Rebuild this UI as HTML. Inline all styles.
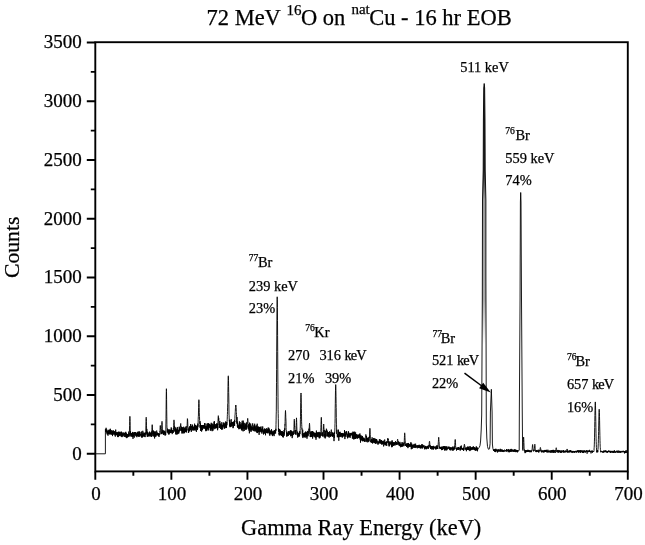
<!DOCTYPE html>
<html><head><meta charset="utf-8"><style>
html,body{margin:0;padding:0;background:#fff;}
svg{display:block;will-change:transform;}
text{font-family:"Liberation Serif",serif;fill:#000;stroke:#000;stroke-width:0.25px;}
</style></head><body>
<svg width="645" height="545" viewBox="0 0 645 545">
<defs><linearGradient id="g511" x1="0" y1="83" x2="0" y2="350" gradientUnits="userSpaceOnUse"><stop offset="0" stop-color="#222"/><stop offset="0.326" stop-color="#222"/><stop offset="0.438" stop-color="#999"/><stop offset="0.81" stop-color="#aaa"/><stop offset="0.98" stop-color="#fff"/></linearGradient></defs>
<path d="M482.2,350L482.3,300L482.5,200L483.2,170L483.4,120L483.75,88L484.2,83.5L484.65,88L485.0,120L485.2,170L485.9,200L485.9,275L486.0,350Z" fill="url(#g511)"/>
<path d="M95.30,453.80 L105.40,453.80 L105.40,429.50 L105.50,429.06 L105.60,430.17 L105.70,431.36 L105.80,430.68 L105.90,431.72 L106.00,429.96 L106.10,427.80 L106.20,431.11 L106.30,431.43 L106.40,429.58 L106.50,429.91 L106.60,430.44 L106.70,432.33 L106.80,430.86 L106.90,429.70 L107.00,433.32 L107.10,431.82 L107.20,434.34 L107.30,433.32 L107.40,434.30 L107.50,431.57 L107.60,433.38 L107.70,430.77 L107.80,431.00 L107.90,431.63 L108.00,435.65 L108.10,432.30 L108.20,431.49 L108.30,431.25 L108.40,434.09 L108.50,432.33 L108.60,433.21 L108.70,432.96 L108.80,429.81 L108.90,433.02 L109.00,431.74 L109.10,430.21 L109.20,432.74 L109.30,431.97 L109.40,431.63 L109.50,431.74 L109.60,433.96 L109.70,431.79 L109.80,429.66 L109.90,434.60 L110.00,430.57 L110.10,431.85 L110.20,433.17 L110.30,428.75 L110.40,430.87 L110.50,434.21 L110.60,432.10 L110.70,431.29 L110.80,432.61 L110.90,431.18 L111.00,432.47 L111.10,431.28 L111.20,430.02 L111.30,433.59 L111.40,432.16 L111.50,433.30 L111.60,432.35 L111.70,434.58 L111.80,433.60 L111.90,432.99 L112.00,431.21 L112.10,430.81 L112.20,434.93 L112.30,434.07 L112.40,431.69 L112.50,436.09 L112.60,433.57 L112.70,432.97 L112.80,430.74 L112.90,431.70 L113.00,433.40 L113.10,433.49 L113.20,433.31 L113.30,430.39 L113.40,433.63 L113.50,433.44 L113.60,432.38 L113.70,433.17 L113.80,433.32 L113.90,434.85 L114.00,433.04 L114.10,433.77 L114.20,431.13 L114.30,431.99 L114.40,433.13 L114.50,432.00 L114.60,433.68 L114.70,431.40 L114.80,433.16 L114.90,432.21 L115.00,435.31 L115.10,432.63 L115.20,435.99 L115.30,436.58 L115.40,433.75 L115.50,434.74 L115.60,433.01 L115.70,429.61 L115.80,434.68 L115.90,434.35 L116.00,433.01 L116.10,432.55 L116.20,433.67 L116.30,433.73 L116.40,432.26 L116.50,432.58 L116.60,435.14 L116.70,433.59 L116.80,433.42 L116.90,435.22 L117.00,433.08 L117.10,434.93 L117.20,431.95 L117.30,433.24 L117.40,433.43 L117.50,434.55 L117.60,433.80 L117.70,436.88 L117.80,435.48 L117.90,433.06 L118.00,437.14 L118.10,432.31 L118.20,436.54 L118.30,432.49 L118.40,435.11 L118.50,432.48 L118.60,433.55 L118.70,436.28 L118.80,431.77 L118.90,431.47 L119.00,433.94 L119.10,434.29 L119.20,434.12 L119.30,435.46 L119.40,432.11 L119.50,434.79 L119.60,434.01 L119.70,435.23 L119.80,434.97 L119.90,436.04 L120.00,431.96 L120.10,434.26 L120.20,432.46 L120.30,434.02 L120.40,435.18 L120.50,434.60 L120.60,434.99 L120.70,434.09 L120.80,434.73 L120.90,434.62 L121.00,436.38 L121.10,435.47 L121.20,431.52 L121.30,435.28 L121.40,435.91 L121.50,433.69 L121.60,431.99 L121.70,436.60 L121.80,434.62 L121.90,435.31 L122.00,437.14 L122.10,433.15 L122.20,434.39 L122.30,434.25 L122.40,435.59 L122.50,433.67 L122.60,435.28 L122.70,434.66 L122.80,436.22 L122.90,436.41 L123.00,432.34 L123.10,435.30 L123.20,434.04 L123.30,434.58 L123.40,435.25 L123.50,435.37 L123.60,433.57 L123.70,435.07 L123.80,434.85 L123.90,434.59 L124.00,432.76 L124.10,433.57 L124.20,434.06 L124.30,435.58 L124.40,436.90 L124.50,433.21 L124.60,433.20 L124.70,434.98 L124.80,433.91 L124.90,433.54 L125.00,433.48 L125.10,433.34 L125.20,435.52 L125.30,432.39 L125.40,436.77 L125.50,433.42 L125.60,434.01 L125.70,433.40 L125.80,431.80 L125.90,432.43 L126.00,436.61 L126.10,437.47 L126.20,433.49 L126.30,436.40 L126.40,434.80 L126.50,433.45 L126.60,437.39 L126.70,438.13 L126.80,434.36 L126.90,434.70 L127.00,435.16 L127.10,434.71 L127.20,436.14 L127.30,437.18 L127.40,435.03 L127.50,436.31 L127.60,437.38 L127.70,433.96 L127.80,434.86 L127.90,434.11 L128.00,436.33 L128.10,435.81 L128.20,436.35 L128.30,436.17 L128.40,434.44 L128.50,436.00 L128.60,434.18 L128.70,434.21 L128.80,431.52 L128.90,436.96 L129.00,433.29 L129.10,434.73 L129.20,434.28 L129.30,435.79 L129.40,432.62 L129.50,428.00 L129.60,425.44 L129.70,421.23 L129.80,417.96 L129.90,416.32 L129.90,416.61 L130.00,418.42 L130.10,421.41 L130.20,425.88 L130.30,434.36 L130.40,432.72 L130.50,431.33 L130.60,434.17 L130.70,436.43 L130.80,436.18 L130.90,432.91 L131.00,434.47 L131.10,434.64 L131.20,434.80 L131.30,434.65 L131.40,433.43 L131.50,433.83 L131.60,434.37 L131.70,436.38 L131.80,433.89 L131.90,435.80 L132.00,432.96 L132.10,436.74 L132.20,434.92 L132.30,434.71 L132.40,436.82 L132.50,431.95 L132.60,432.37 L132.70,435.44 L132.80,433.46 L132.90,434.09 L133.00,438.87 L133.10,434.29 L133.20,434.79 L133.30,434.56 L133.40,436.41 L133.50,435.12 L133.60,434.97 L133.70,432.78 L133.80,434.15 L133.90,434.69 L134.00,432.23 L134.10,435.57 L134.20,435.30 L134.30,437.58 L134.40,432.16 L134.50,433.13 L134.60,433.20 L134.70,433.60 L134.80,434.49 L134.90,434.32 L135.00,435.07 L135.10,434.99 L135.20,434.58 L135.30,432.24 L135.40,433.77 L135.50,434.75 L135.60,435.59 L135.70,435.67 L135.80,432.09 L135.90,433.84 L136.00,434.55 L136.10,435.21 L136.20,436.43 L136.30,434.76 L136.40,433.25 L136.50,435.28 L136.60,435.01 L136.70,435.00 L136.80,434.47 L136.90,437.20 L137.00,435.02 L137.10,436.01 L137.20,433.22 L137.30,435.87 L137.40,433.71 L137.50,432.19 L137.60,435.14 L137.70,435.60 L137.80,434.32 L137.90,434.63 L138.00,436.22 L138.10,433.89 L138.20,431.39 L138.30,435.04 L138.40,434.95 L138.50,436.30 L138.60,434.11 L138.70,436.62 L138.80,436.39 L138.90,432.56 L139.00,436.07 L139.10,432.88 L139.20,432.16 L139.30,434.19 L139.40,433.72 L139.50,431.47 L139.60,434.92 L139.70,435.56 L139.80,436.78 L139.90,434.53 L140.00,432.22 L140.10,433.05 L140.20,436.10 L140.30,435.96 L140.40,435.39 L140.50,434.10 L140.60,434.90 L140.70,434.22 L140.80,434.08 L140.90,435.03 L141.00,434.61 L141.10,434.21 L141.20,434.67 L141.30,433.72 L141.40,431.51 L141.50,433.56 L141.60,434.42 L141.70,437.23 L141.80,433.88 L141.90,437.64 L142.00,436.76 L142.10,433.11 L142.20,433.34 L142.30,434.72 L142.40,437.23 L142.50,435.06 L142.60,435.55 L142.70,433.42 L142.80,430.80 L142.90,434.09 L143.00,435.69 L143.10,436.32 L143.20,434.51 L143.30,434.70 L143.40,436.28 L143.50,434.22 L143.60,436.26 L143.70,432.60 L143.80,432.67 L143.90,432.63 L144.00,435.15 L144.10,433.54 L144.20,434.58 L144.30,434.99 L144.40,434.91 L144.50,436.46 L144.60,436.69 L144.70,433.05 L144.80,434.65 L144.90,433.98 L145.00,432.70 L145.10,437.13 L145.20,435.58 L145.30,433.98 L145.40,433.52 L145.50,434.47 L145.60,431.46 L145.70,431.32 L145.80,431.15 L145.90,425.94 L146.00,421.68 L146.10,418.68 L146.20,418.06 L146.20,417.27 L146.30,418.64 L146.40,421.53 L146.50,425.77 L146.60,429.62 L146.70,433.44 L146.80,428.93 L146.90,434.06 L147.00,431.48 L147.10,435.22 L147.20,433.93 L147.30,436.92 L147.40,434.82 L147.50,432.58 L147.60,436.22 L147.70,432.43 L147.80,433.62 L147.90,435.87 L148.00,434.98 L148.10,434.90 L148.20,434.23 L148.30,435.02 L148.40,435.49 L148.50,434.63 L148.60,435.80 L148.70,436.23 L148.80,434.19 L148.90,432.67 L149.00,436.60 L149.10,434.09 L149.20,435.16 L149.30,435.69 L149.40,432.69 L149.50,434.93 L149.60,431.62 L149.70,435.34 L149.80,433.43 L149.90,434.43 L150.00,435.28 L150.10,433.08 L150.20,434.29 L150.30,433.05 L150.40,434.11 L150.50,435.80 L150.60,434.18 L150.70,433.93 L150.80,432.43 L150.90,435.49 L151.00,434.06 L151.10,436.81 L151.20,432.91 L151.30,435.73 L151.40,436.86 L151.50,433.81 L151.60,431.49 L151.70,434.98 L151.80,432.85 L151.90,429.28 L152.00,427.20 L152.10,425.08 L152.20,424.70 L152.20,424.68 L152.30,425.02 L152.40,427.09 L152.50,428.96 L152.60,432.62 L152.70,434.41 L152.80,436.26 L152.90,430.57 L153.00,434.33 L153.10,433.45 L153.20,433.92 L153.30,433.60 L153.40,433.78 L153.50,430.71 L153.60,435.56 L153.70,436.41 L153.80,435.51 L153.90,436.04 L154.00,432.60 L154.10,432.47 L154.20,435.41 L154.30,436.11 L154.40,434.39 L154.50,431.51 L154.60,438.45 L154.70,432.92 L154.80,435.56 L154.90,432.06 L155.00,435.56 L155.10,434.24 L155.20,436.25 L155.30,435.37 L155.40,431.46 L155.50,432.39 L155.60,434.41 L155.70,435.18 L155.80,436.87 L155.90,434.38 L156.00,433.77 L156.10,433.85 L156.20,433.86 L156.30,435.56 L156.40,433.81 L156.50,433.76 L156.60,431.55 L156.70,430.59 L156.80,433.90 L156.90,434.94 L157.00,433.77 L157.10,434.67 L157.20,434.89 L157.30,433.75 L157.40,435.38 L157.50,432.63 L157.60,433.80 L157.70,433.21 L157.80,433.92 L157.90,434.82 L158.00,435.19 L158.10,434.00 L158.20,434.51 L158.30,433.20 L158.40,433.60 L158.50,435.85 L158.60,433.47 L158.70,435.81 L158.80,434.59 L158.90,434.05 L159.00,437.01 L159.10,433.40 L159.20,433.29 L159.30,433.80 L159.40,434.23 L159.50,434.10 L159.60,434.99 L159.70,433.51 L159.80,433.34 L159.90,431.12 L160.00,431.60 L160.10,427.58 L160.20,426.00 L160.30,425.44 L160.30,425.51 L160.40,425.86 L160.50,427.98 L160.60,429.35 L160.70,430.72 L160.80,431.78 L160.90,432.22 L161.00,434.23 L161.10,433.64 L161.20,432.08 L161.30,432.21 L161.40,432.07 L161.50,433.94 L161.60,428.75 L161.70,426.95 L161.80,424.33 L161.90,422.38 L162.00,421.99 L162.00,421.36 L162.10,422.44 L162.20,425.15 L162.30,427.03 L162.40,432.02 L162.50,433.38 L162.60,433.25 L162.70,430.50 L162.80,433.47 L162.90,432.43 L163.00,429.93 L163.10,430.18 L163.20,433.04 L163.30,433.25 L163.40,434.96 L163.50,433.98 L163.60,432.06 L163.70,432.09 L163.80,432.55 L163.90,431.03 L164.00,434.02 L164.10,432.78 L164.20,431.41 L164.30,431.64 L164.40,430.79 L164.50,431.92 L164.60,433.11 L164.70,431.94 L164.80,434.26 L164.90,435.33 L165.00,431.51 L165.10,432.57 L165.20,431.93 L165.30,435.35 L165.40,433.02 L165.50,433.32 L165.60,433.48 L165.70,435.08 L165.80,429.88 L165.90,423.93 L166.00,418.32 L166.10,410.07 L166.20,399.89 L166.30,391.63 L166.40,389.41 L166.40,388.73 L166.50,391.64 L166.60,399.63 L166.70,409.35 L166.80,416.85 L166.90,424.73 L167.00,428.54 L167.10,429.56 L167.20,432.61 L167.30,432.00 L167.40,430.42 L167.50,428.60 L167.60,432.26 L167.70,432.04 L167.80,431.60 L167.90,429.59 L168.00,431.95 L168.10,429.32 L168.20,433.54 L168.30,432.16 L168.40,432.17 L168.50,430.43 L168.60,429.96 L168.70,434.39 L168.80,433.34 L168.90,431.13 L169.00,432.85 L169.10,434.34 L169.20,429.84 L169.30,430.78 L169.40,430.76 L169.50,432.43 L169.60,429.78 L169.70,431.98 L169.80,429.62 L169.90,433.12 L170.00,433.00 L170.10,431.13 L170.20,432.71 L170.30,430.27 L170.40,430.99 L170.50,433.06 L170.60,431.29 L170.70,432.03 L170.80,429.78 L170.90,432.49 L171.00,432.14 L171.10,429.22 L171.20,427.39 L171.30,427.80 L171.40,431.20 L171.50,430.91 L171.60,428.58 L171.70,431.49 L171.80,432.99 L171.90,431.04 L172.00,430.43 L172.10,432.69 L172.20,434.12 L172.30,433.74 L172.40,430.00 L172.50,432.51 L172.60,431.40 L172.70,430.76 L172.80,430.03 L172.90,431.71 L173.00,430.21 L173.10,432.64 L173.20,431.62 L173.30,432.58 L173.40,428.24 L173.50,429.29 L173.60,428.85 L173.70,425.26 L173.80,422.60 L173.90,420.24 L174.00,420.03 L174.00,419.88 L174.10,420.50 L174.20,421.81 L174.30,424.83 L174.40,427.63 L174.50,427.84 L174.60,426.42 L174.70,430.99 L174.80,431.41 L174.90,428.65 L175.00,429.94 L175.10,429.62 L175.20,431.71 L175.30,427.35 L175.40,427.72 L175.50,429.75 L175.60,429.53 L175.70,434.37 L175.80,429.58 L175.90,431.06 L176.00,429.92 L176.10,429.46 L176.20,431.29 L176.30,433.69 L176.40,429.99 L176.50,431.96 L176.60,431.21 L176.70,431.69 L176.80,431.21 L176.90,434.73 L177.00,428.38 L177.10,430.10 L177.20,428.54 L177.30,426.96 L177.40,430.47 L177.50,433.75 L177.60,432.10 L177.70,432.65 L177.80,431.37 L177.90,430.30 L178.00,434.05 L178.10,429.80 L178.20,433.13 L178.30,429.86 L178.40,430.58 L178.50,430.93 L178.60,430.49 L178.70,431.32 L178.80,431.43 L178.90,433.36 L179.00,430.35 L179.10,426.94 L179.20,426.69 L179.30,427.86 L179.40,428.97 L179.50,431.46 L179.60,427.60 L179.70,430.31 L179.80,430.31 L179.90,430.67 L180.00,429.87 L180.10,430.58 L180.20,429.42 L180.30,430.30 L180.40,427.64 L180.50,424.78 L180.60,424.13 L180.70,423.67 L180.70,423.45 L180.80,423.89 L180.90,425.65 L181.00,426.94 L181.10,426.55 L181.20,428.64 L181.30,429.41 L181.40,427.02 L181.50,431.17 L181.60,429.79 L181.70,430.89 L181.80,427.20 L181.90,433.48 L182.00,431.13 L182.10,430.85 L182.20,428.66 L182.30,428.75 L182.40,427.29 L182.50,432.72 L182.60,428.45 L182.70,430.34 L182.80,431.01 L182.90,428.79 L183.00,431.45 L183.10,433.56 L183.20,430.42 L183.30,432.48 L183.40,430.91 L183.50,429.02 L183.60,429.11 L183.70,426.76 L183.80,430.03 L183.90,432.47 L184.00,431.02 L184.10,431.31 L184.20,431.85 L184.30,428.79 L184.40,430.77 L184.50,433.21 L184.60,428.27 L184.70,429.75 L184.80,428.87 L184.90,429.32 L185.00,428.33 L185.10,429.42 L185.20,427.19 L185.30,428.67 L185.40,428.72 L185.50,428.67 L185.60,432.11 L185.70,429.70 L185.80,429.86 L185.90,428.98 L186.00,431.87 L186.10,426.31 L186.20,429.13 L186.30,431.56 L186.40,432.46 L186.50,429.80 L186.60,429.41 L186.70,430.49 L186.80,428.79 L186.90,429.69 L187.00,426.54 L187.10,427.34 L187.20,423.83 L187.30,421.13 L187.40,418.74 L187.50,418.98 L187.50,418.83 L187.60,419.66 L187.70,421.12 L187.80,424.05 L187.90,426.78 L188.00,427.47 L188.10,430.14 L188.20,430.54 L188.30,429.81 L188.40,432.90 L188.50,431.68 L188.60,429.74 L188.70,428.68 L188.80,429.29 L188.90,432.25 L189.00,429.78 L189.10,427.40 L189.20,427.84 L189.30,429.02 L189.40,430.52 L189.50,427.66 L189.60,429.91 L189.70,431.00 L189.80,430.30 L189.90,426.06 L190.00,428.35 L190.10,426.57 L190.20,429.64 L190.30,426.96 L190.40,429.84 L190.50,428.99 L190.60,424.00 L190.70,427.22 L190.80,429.59 L190.90,428.79 L191.00,428.01 L191.10,426.32 L191.20,429.51 L191.30,431.86 L191.40,429.09 L191.50,428.52 L191.60,428.33 L191.70,426.03 L191.80,427.90 L191.90,426.95 L192.00,430.56 L192.10,426.82 L192.20,424.48 L192.30,426.97 L192.40,427.93 L192.50,428.11 L192.60,425.00 L192.70,430.13 L192.80,428.57 L192.90,427.47 L193.00,426.92 L193.10,429.14 L193.20,427.71 L193.30,428.81 L193.40,428.04 L193.50,428.50 L193.60,430.41 L193.70,428.26 L193.80,426.54 L193.90,430.03 L194.00,428.64 L194.10,426.90 L194.20,430.19 L194.30,427.79 L194.40,430.14 L194.50,425.94 L194.60,423.68 L194.70,424.22 L194.80,428.48 L194.90,426.63 L195.00,427.80 L195.10,427.82 L195.20,425.05 L195.30,430.51 L195.40,425.96 L195.50,428.05 L195.60,425.25 L195.70,427.57 L195.80,429.20 L195.90,427.37 L196.00,426.48 L196.10,427.80 L196.20,426.92 L196.30,428.84 L196.40,431.92 L196.50,426.09 L196.60,426.45 L196.70,427.50 L196.80,427.63 L196.90,425.75 L197.00,428.59 L197.10,429.03 L197.20,427.97 L197.30,425.23 L197.40,430.05 L197.50,424.89 L197.60,428.13 L197.70,428.62 L197.80,423.52 L197.90,425.39 L198.00,426.71 L198.10,423.57 L198.20,419.29 L198.30,416.39 L198.40,416.38 L198.50,410.95 L198.60,407.33 L198.70,403.79 L198.80,400.65 L198.90,399.71 L198.90,399.86 L199.00,400.87 L199.10,403.52 L199.20,407.44 L199.30,412.71 L199.40,416.24 L199.50,416.36 L199.60,420.47 L199.70,420.93 L199.80,421.61 L199.90,423.76 L200.00,421.21 L200.10,427.76 L200.20,424.96 L200.30,427.42 L200.40,423.37 L200.50,423.78 L200.60,430.95 L200.70,429.07 L200.80,425.92 L200.90,425.68 L201.00,425.79 L201.10,427.35 L201.20,426.32 L201.30,425.93 L201.40,427.35 L201.50,425.19 L201.60,431.58 L201.70,425.94 L201.80,429.18 L201.90,425.29 L202.00,427.60 L202.10,428.88 L202.20,426.41 L202.30,428.91 L202.40,428.90 L202.50,430.17 L202.60,427.16 L202.70,426.13 L202.80,425.10 L202.90,427.36 L203.00,425.03 L203.10,427.04 L203.20,427.25 L203.30,425.94 L203.40,424.98 L203.50,427.71 L203.60,427.51 L203.70,427.34 L203.80,426.86 L203.90,428.77 L204.00,425.00 L204.10,427.78 L204.20,426.09 L204.30,428.60 L204.40,426.28 L204.50,426.20 L204.60,427.79 L204.70,423.00 L204.80,426.22 L204.90,423.46 L205.00,425.05 L205.10,428.22 L205.20,427.67 L205.30,426.06 L205.40,426.78 L205.50,426.80 L205.60,427.45 L205.70,430.43 L205.80,427.32 L205.90,431.22 L206.00,426.13 L206.10,428.28 L206.20,428.25 L206.30,427.27 L206.40,426.30 L206.50,429.64 L206.60,430.25 L206.70,428.90 L206.80,430.81 L206.90,428.69 L207.00,423.66 L207.10,428.86 L207.20,425.49 L207.30,429.46 L207.40,426.17 L207.50,427.38 L207.60,426.86 L207.70,425.62 L207.80,423.27 L207.90,426.34 L208.00,426.47 L208.10,428.62 L208.20,425.55 L208.30,427.18 L208.40,425.04 L208.50,426.75 L208.60,423.19 L208.70,430.45 L208.80,426.95 L208.90,424.32 L209.00,426.30 L209.10,425.33 L209.20,424.75 L209.30,424.91 L209.30,424.46 L209.40,423.93 L209.50,424.73 L209.60,425.89 L209.70,427.73 L209.80,427.09 L209.90,424.47 L210.00,428.15 L210.10,427.91 L210.20,424.80 L210.30,424.83 L210.40,427.28 L210.50,428.74 L210.60,429.59 L210.70,427.90 L210.80,430.92 L210.90,425.02 L211.00,427.74 L211.10,425.53 L211.20,422.78 L211.30,424.15 L211.40,428.75 L211.50,424.73 L211.60,424.15 L211.70,427.92 L211.80,428.33 L211.90,426.64 L212.00,429.60 L212.10,423.49 L212.20,431.18 L212.30,428.59 L212.40,426.93 L212.50,426.83 L212.60,426.05 L212.70,425.83 L212.80,426.79 L212.90,424.09 L213.00,430.60 L213.10,426.34 L213.20,427.75 L213.30,426.06 L213.40,425.88 L213.50,428.12 L213.60,427.58 L213.70,424.72 L213.80,425.59 L213.90,427.63 L214.00,422.21 L214.10,421.67 L214.20,429.17 L214.30,425.65 L214.40,421.25 L214.50,424.67 L214.60,425.79 L214.70,426.64 L214.80,427.29 L214.90,426.63 L215.00,427.30 L215.10,424.70 L215.20,426.97 L215.30,427.05 L215.40,428.56 L215.50,426.25 L215.60,427.92 L215.70,426.49 L215.80,424.03 L215.90,425.37 L216.00,425.08 L216.10,425.37 L216.20,425.95 L216.30,426.31 L216.40,426.67 L216.50,424.52 L216.60,428.20 L216.70,423.33 L216.80,425.94 L216.90,427.50 L217.00,426.96 L217.10,427.33 L217.20,425.64 L217.30,427.39 L217.40,423.63 L217.50,427.41 L217.60,430.22 L217.70,426.70 L217.80,428.41 L217.90,423.01 L218.00,420.60 L218.10,418.50 L218.20,417.30 L218.30,416.43 L218.30,415.66 L218.40,416.78 L218.50,418.65 L218.60,420.54 L218.70,417.91 L218.80,421.66 L218.90,424.83 L219.00,424.80 L219.10,424.43 L219.20,426.96 L219.30,427.86 L219.40,425.62 L219.50,427.62 L219.60,425.83 L219.70,425.50 L219.80,420.96 L219.90,427.39 L220.00,425.91 L220.10,425.98 L220.20,424.76 L220.30,423.52 L220.40,426.61 L220.50,427.27 L220.60,428.91 L220.70,427.46 L220.80,424.49 L220.90,425.47 L221.00,427.61 L221.10,426.30 L221.20,425.47 L221.30,424.50 L221.40,426.71 L221.50,426.01 L221.60,429.17 L221.70,427.81 L221.80,422.19 L221.90,429.89 L222.00,426.13 L222.10,424.99 L222.20,426.18 L222.30,427.05 L222.40,425.53 L222.50,425.40 L222.60,425.55 L222.70,429.18 L222.80,425.66 L222.90,427.09 L223.00,426.45 L223.10,424.87 L223.20,424.01 L223.30,423.48 L223.40,426.31 L223.50,423.40 L223.60,422.88 L223.70,422.95 L223.80,422.42 L223.90,425.54 L224.00,425.59 L224.10,423.54 L224.20,427.99 L224.30,424.77 L224.40,426.27 L224.50,425.93 L224.60,428.72 L224.70,426.97 L224.80,425.19 L224.90,423.32 L225.00,423.10 L225.10,425.28 L225.20,425.49 L225.30,426.79 L225.40,424.26 L225.50,425.58 L225.60,423.82 L225.70,421.46 L225.80,425.10 L225.90,428.09 L226.00,426.77 L226.10,427.98 L226.20,427.43 L226.30,422.27 L226.40,424.44 L226.50,427.95 L226.60,423.38 L226.70,421.95 L226.80,424.99 L226.90,425.21 L227.00,423.88 L227.10,421.70 L227.20,419.69 L227.30,416.84 L227.40,414.44 L227.50,411.42 L227.60,407.11 L227.70,403.64 L227.80,402.34 L227.90,392.84 L228.00,386.30 L228.10,380.97 L228.20,376.77 L228.30,375.81 L228.30,375.99 L228.40,376.62 L228.50,380.67 L228.60,386.36 L228.70,392.54 L228.80,397.04 L228.90,404.32 L229.00,414.98 L229.10,415.26 L229.20,417.88 L229.30,421.29 L229.40,420.60 L229.50,419.82 L229.60,424.17 L229.70,426.14 L229.80,420.06 L229.90,425.43 L230.00,427.22 L230.10,424.30 L230.20,423.98 L230.30,426.34 L230.40,423.30 L230.50,425.94 L230.60,426.84 L230.70,424.59 L230.80,423.38 L230.90,426.27 L231.00,424.30 L231.10,425.17 L231.20,419.19 L231.30,426.45 L231.40,422.16 L231.50,425.11 L231.60,425.27 L231.70,423.53 L231.80,423.19 L231.90,422.43 L232.00,424.36 L232.10,426.27 L232.20,426.15 L232.30,424.01 L232.40,423.87 L232.50,422.19 L232.60,424.21 L232.70,422.90 L232.80,421.97 L232.90,424.75 L233.00,428.14 L233.10,427.51 L233.20,428.05 L233.30,421.84 L233.40,426.85 L233.50,422.58 L233.60,423.90 L233.70,421.57 L233.80,423.00 L233.90,425.22 L234.00,425.34 L234.10,424.62 L234.20,424.23 L234.30,425.37 L234.40,423.92 L234.50,419.95 L234.60,425.94 L234.70,420.91 L234.80,422.03 L234.90,418.28 L235.00,415.20 L235.10,415.03 L235.20,412.76 L235.30,411.47 L235.40,408.75 L235.50,407.64 L235.60,405.99 L235.70,405.32 L235.80,405.89 L235.80,405.33 L235.90,405.32 L236.00,405.72 L236.10,407.40 L236.20,409.06 L236.30,411.48 L236.40,412.63 L236.50,414.54 L236.60,416.96 L236.70,419.21 L236.80,423.60 L236.90,419.76 L237.00,417.07 L237.10,421.94 L237.20,421.43 L237.30,423.35 L237.40,426.79 L237.50,422.26 L237.60,427.66 L237.70,425.66 L237.80,424.72 L237.90,423.53 L238.00,424.51 L238.10,424.59 L238.20,426.95 L238.30,428.03 L238.40,425.28 L238.50,426.86 L238.60,428.09 L238.70,428.01 L238.80,426.43 L238.90,429.22 L239.00,428.20 L239.10,428.79 L239.20,425.08 L239.30,424.63 L239.40,421.36 L239.50,428.53 L239.60,426.87 L239.70,423.62 L239.80,425.93 L239.90,426.16 L240.00,422.01 L240.10,426.22 L240.20,427.91 L240.30,428.26 L240.40,424.92 L240.50,425.00 L240.60,428.44 L240.70,427.68 L240.80,424.61 L240.90,424.55 L241.00,427.06 L241.10,424.51 L241.20,424.64 L241.30,429.45 L241.40,426.48 L241.50,425.03 L241.60,427.06 L241.70,430.26 L241.80,426.52 L241.90,424.45 L242.00,422.80 L242.10,430.46 L242.20,420.76 L242.30,428.36 L242.40,424.16 L242.50,423.63 L242.60,424.16 L242.70,425.87 L242.80,428.55 L242.90,424.96 L243.00,427.69 L243.10,431.36 L243.20,420.60 L243.30,424.90 L243.40,422.69 L243.50,428.21 L243.60,423.45 L243.70,423.23 L243.80,423.32 L243.90,426.52 L244.00,428.92 L244.10,426.88 L244.20,430.97 L244.30,429.99 L244.40,426.42 L244.50,428.61 L244.60,426.98 L244.70,426.89 L244.80,422.83 L244.90,424.13 L245.00,426.84 L245.10,424.36 L245.20,428.36 L245.30,427.50 L245.40,425.03 L245.50,429.35 L245.60,427.46 L245.70,429.56 L245.80,426.72 L245.90,423.72 L246.00,428.50 L246.10,426.58 L246.20,428.84 L246.30,429.36 L246.40,429.56 L246.50,424.23 L246.60,422.44 L246.70,426.18 L246.80,428.52 L246.90,425.56 L247.00,427.31 L247.10,424.44 L247.20,424.42 L247.30,422.98 L247.40,421.57 L247.50,420.16 L247.60,418.79 L247.70,418.71 L247.70,418.33 L247.80,419.15 L247.90,420.13 L248.00,422.19 L248.10,423.53 L248.20,424.35 L248.30,429.13 L248.40,428.60 L248.50,429.22 L248.60,426.08 L248.70,424.28 L248.80,426.01 L248.90,428.41 L249.00,424.87 L249.10,430.75 L249.20,424.85 L249.30,429.11 L249.40,433.31 L249.50,422.67 L249.60,424.80 L249.70,429.95 L249.80,427.62 L249.90,428.40 L250.00,427.80 L250.10,430.92 L250.20,429.37 L250.30,427.14 L250.40,427.64 L250.50,425.75 L250.60,427.96 L250.70,423.55 L250.80,429.56 L250.90,427.67 L251.00,431.94 L251.10,430.67 L251.20,425.65 L251.30,430.10 L251.40,427.25 L251.50,428.42 L251.60,430.35 L251.70,429.02 L251.80,429.36 L251.90,429.33 L252.00,426.93 L252.10,427.15 L252.20,429.56 L252.30,430.22 L252.40,427.93 L252.50,428.69 L252.60,426.52 L252.70,423.39 L252.80,426.92 L252.90,428.65 L253.00,428.93 L253.10,430.28 L253.20,430.40 L253.30,430.60 L253.40,429.45 L253.50,429.53 L253.60,427.28 L253.70,429.51 L253.80,429.14 L253.90,431.13 L254.00,425.62 L254.10,427.84 L254.20,425.39 L254.30,427.32 L254.40,426.01 L254.50,429.38 L254.60,427.54 L254.70,423.73 L254.80,431.32 L254.90,426.72 L255.00,425.73 L255.10,428.21 L255.20,427.57 L255.30,426.60 L255.40,430.37 L255.50,428.30 L255.60,430.83 L255.70,430.47 L255.80,430.37 L255.90,429.46 L256.00,428.91 L256.10,428.33 L256.20,432.02 L256.30,425.38 L256.40,427.01 L256.50,427.88 L256.60,430.02 L256.70,429.51 L256.80,428.29 L256.90,428.57 L257.00,432.69 L257.10,427.97 L257.20,423.73 L257.30,433.07 L257.40,427.53 L257.50,428.78 L257.60,429.74 L257.70,426.86 L257.80,431.87 L257.90,429.26 L258.00,426.74 L258.10,430.00 L258.20,430.46 L258.30,429.44 L258.40,430.55 L258.50,426.68 L258.60,431.49 L258.70,428.04 L258.80,432.20 L258.90,428.48 L259.00,430.00 L259.10,434.85 L259.20,429.85 L259.30,431.94 L259.40,430.75 L259.50,426.91 L259.60,432.09 L259.70,432.00 L259.80,427.16 L259.90,429.75 L260.00,427.01 L260.10,429.39 L260.20,431.75 L260.30,430.19 L260.40,427.69 L260.50,428.28 L260.60,430.12 L260.70,430.05 L260.80,430.38 L260.90,431.30 L261.00,426.46 L261.10,430.21 L261.20,432.43 L261.30,431.18 L261.40,428.88 L261.50,429.06 L261.60,430.58 L261.70,431.63 L261.80,430.31 L261.90,433.61 L262.00,432.91 L262.10,428.88 L262.20,431.36 L262.30,429.74 L262.40,428.13 L262.50,429.25 L262.60,430.48 L262.70,426.45 L262.80,429.28 L262.90,431.26 L263.00,429.19 L263.10,429.84 L263.20,432.28 L263.30,430.52 L263.40,431.00 L263.50,434.47 L263.60,431.05 L263.70,431.28 L263.80,431.60 L263.90,433.93 L264.00,431.48 L264.10,430.90 L264.20,430.65 L264.30,433.03 L264.40,429.67 L264.50,433.22 L264.60,431.35 L264.70,428.45 L264.80,432.28 L264.90,431.95 L265.00,428.95 L265.10,431.75 L265.20,431.60 L265.30,430.63 L265.40,429.07 L265.50,435.27 L265.60,432.67 L265.70,433.03 L265.80,433.19 L265.90,432.77 L266.00,432.75 L266.10,430.60 L266.20,432.88 L266.30,430.98 L266.40,430.46 L266.50,432.62 L266.60,431.01 L266.70,428.18 L266.80,430.68 L266.90,432.51 L267.00,431.44 L267.10,433.06 L267.20,430.84 L267.30,429.74 L267.40,432.93 L267.50,431.79 L267.60,429.32 L267.70,432.37 L267.80,431.09 L267.90,433.39 L268.00,433.02 L268.10,432.46 L268.20,427.52 L268.30,432.28 L268.40,432.52 L268.50,432.59 L268.60,431.88 L268.70,430.39 L268.80,431.26 L268.90,427.86 L269.00,431.25 L269.10,429.01 L269.20,431.17 L269.30,430.58 L269.40,434.34 L269.50,431.95 L269.60,431.86 L269.70,432.20 L269.80,435.70 L269.90,430.18 L270.00,432.51 L270.10,432.62 L270.20,432.30 L270.30,432.26 L270.40,431.12 L270.50,434.20 L270.60,433.59 L270.70,431.38 L270.80,431.66 L270.90,432.63 L271.00,433.00 L271.10,433.49 L271.20,432.10 L271.30,429.86 L271.40,433.95 L271.50,429.27 L271.60,430.52 L271.70,432.89 L271.80,430.67 L271.90,434.76 L272.00,435.26 L272.10,434.47 L272.20,432.89 L272.30,432.76 L272.40,433.12 L272.50,432.02 L272.60,436.08 L272.70,431.34 L272.80,434.81 L272.90,433.46 L273.00,433.03 L273.10,434.38 L273.20,434.79 L273.30,434.14 L273.40,432.37 L273.50,431.30 L273.60,431.36 L273.70,434.19 L273.80,433.83 L273.90,434.08 L274.00,431.63 L274.10,436.12 L274.20,430.24 L274.30,433.36 L274.40,433.91 L274.50,431.91 L274.60,430.68 L274.70,431.94 L274.80,430.68 L274.90,432.34 L275.00,430.39 L275.10,430.36 L275.20,432.76 L275.30,429.96 L275.40,432.16 L275.50,432.12 L275.60,433.59 L275.70,431.83 L275.80,428.85 L275.90,430.82 L276.00,424.51 L276.10,420.85 L276.20,414.95 L276.30,411.17 L276.40,396.74 L276.50,382.31 L276.60,369.68 L276.70,351.84 L276.80,335.95 L276.90,319.92 L277.00,307.98 L277.10,299.55 L277.20,297.49 L277.20,296.81 L277.30,299.86 L277.40,307.62 L277.50,320.41 L277.60,335.55 L277.70,351.36 L277.80,369.90 L277.90,384.86 L278.00,397.20 L278.10,409.22 L278.20,413.51 L278.30,418.60 L278.40,427.16 L278.50,431.79 L278.60,428.41 L278.70,429.62 L278.80,430.77 L278.90,430.53 L279.00,434.34 L279.10,433.20 L279.20,435.42 L279.30,435.51 L279.40,431.26 L279.50,434.21 L279.60,428.97 L279.70,432.91 L279.80,434.19 L279.90,431.64 L280.00,429.86 L280.10,432.21 L280.20,435.25 L280.30,432.43 L280.40,430.66 L280.50,433.99 L280.60,434.50 L280.70,431.33 L280.80,432.89 L280.90,435.11 L281.00,433.83 L281.10,434.51 L281.20,432.65 L281.30,432.99 L281.40,431.16 L281.50,431.95 L281.60,435.99 L281.70,432.50 L281.80,431.64 L281.90,432.44 L282.00,431.43 L282.10,434.24 L282.20,434.96 L282.30,431.63 L282.40,435.18 L282.50,437.13 L282.60,431.49 L282.70,434.60 L282.80,433.87 L282.90,435.81 L283.00,435.69 L283.10,435.40 L283.20,434.00 L283.30,432.72 L283.40,437.45 L283.50,432.06 L283.60,435.48 L283.70,435.28 L283.80,432.19 L283.90,433.50 L284.00,436.03 L284.10,429.97 L284.20,434.60 L284.30,432.40 L284.40,432.12 L284.50,429.44 L284.60,431.96 L284.70,428.30 L284.80,429.88 L284.90,424.57 L285.00,425.28 L285.10,421.42 L285.20,416.86 L285.30,414.11 L285.40,411.89 L285.50,410.51 L285.50,411.00 L285.60,412.16 L285.70,414.04 L285.80,417.73 L285.90,418.87 L286.00,421.91 L286.10,427.67 L286.20,429.81 L286.30,429.91 L286.40,431.30 L286.50,433.84 L286.60,431.68 L286.70,436.65 L286.80,434.08 L286.90,434.20 L287.00,434.08 L287.10,433.12 L287.20,435.86 L287.30,432.70 L287.40,434.07 L287.50,434.90 L287.60,436.17 L287.70,435.86 L287.80,433.16 L287.90,435.49 L288.00,433.70 L288.10,431.96 L288.20,432.02 L288.30,431.11 L288.40,434.37 L288.50,435.76 L288.60,432.08 L288.70,433.34 L288.80,431.92 L288.90,433.88 L289.00,431.81 L289.10,432.44 L289.20,432.67 L289.30,433.05 L289.40,433.25 L289.50,433.55 L289.60,433.57 L289.70,432.24 L289.80,434.88 L289.90,430.96 L290.00,434.19 L290.10,432.28 L290.20,434.16 L290.30,434.44 L290.40,430.46 L290.50,434.56 L290.60,436.25 L290.70,435.27 L290.80,434.58 L290.90,430.27 L291.00,433.67 L291.10,432.40 L291.20,435.79 L291.30,433.43 L291.40,432.87 L291.50,430.91 L291.60,435.27 L291.70,433.00 L291.80,433.53 L291.90,435.85 L292.00,434.10 L292.10,434.53 L292.20,438.13 L292.30,433.03 L292.40,433.14 L292.50,434.85 L292.60,436.42 L292.70,431.51 L292.80,433.63 L292.90,432.32 L293.00,431.64 L293.10,435.01 L293.20,432.69 L293.30,434.52 L293.40,434.19 L293.50,434.13 L293.60,433.72 L293.70,431.14 L293.80,431.56 L293.90,429.82 L294.00,426.53 L294.10,422.93 L294.20,420.50 L294.30,419.33 L294.30,419.21 L294.40,420.42 L294.50,423.06 L294.60,426.63 L294.70,426.09 L294.80,429.49 L294.90,432.34 L295.00,433.86 L295.10,430.22 L295.20,433.57 L295.30,434.32 L295.40,433.65 L295.50,433.64 L295.60,431.69 L295.70,434.08 L295.80,430.11 L295.90,434.62 L296.00,430.47 L296.10,431.04 L296.20,425.50 L296.30,422.38 L296.40,419.35 L296.50,417.96 L296.50,417.87 L296.60,419.64 L296.70,422.40 L296.80,426.36 L296.90,429.09 L297.00,431.89 L297.10,433.73 L297.20,435.00 L297.30,434.77 L297.40,435.51 L297.50,433.32 L297.60,431.61 L297.70,437.62 L297.80,434.46 L297.90,434.99 L298.00,433.41 L298.10,435.93 L298.20,434.53 L298.30,436.09 L298.40,433.07 L298.50,434.11 L298.60,434.57 L298.70,433.65 L298.80,434.72 L298.90,437.00 L299.00,433.26 L299.10,433.80 L299.20,434.56 L299.30,432.57 L299.40,432.14 L299.50,436.10 L299.60,435.45 L299.70,431.18 L299.80,431.00 L299.90,434.08 L300.00,433.77 L300.10,431.15 L300.20,428.46 L300.30,426.98 L300.40,419.79 L300.50,416.79 L300.60,409.03 L300.70,402.64 L300.80,398.03 L300.90,394.44 L301.00,393.04 L301.00,392.99 L301.10,394.51 L301.20,397.85 L301.30,403.12 L301.40,408.29 L301.50,413.47 L301.60,421.80 L301.70,424.26 L301.80,426.41 L301.90,429.27 L302.00,428.60 L302.10,430.49 L302.20,434.49 L302.30,434.11 L302.40,436.41 L302.50,433.87 L302.60,434.11 L302.70,429.70 L302.80,434.25 L302.90,438.06 L303.00,435.60 L303.10,434.24 L303.20,436.62 L303.30,435.95 L303.40,435.08 L303.50,433.86 L303.60,434.74 L303.70,436.00 L303.80,433.09 L303.90,435.40 L304.00,435.33 L304.10,436.87 L304.20,435.84 L304.30,433.34 L304.40,437.29 L304.50,434.61 L304.60,433.24 L304.70,435.14 L304.80,434.08 L304.90,436.44 L305.00,432.23 L305.10,432.59 L305.20,434.10 L305.30,437.56 L305.40,436.33 L305.50,432.82 L305.60,431.55 L305.70,434.01 L305.80,432.36 L305.90,435.58 L306.00,434.86 L306.10,434.53 L306.20,433.81 L306.30,437.20 L306.40,432.91 L306.50,432.26 L306.60,436.55 L306.70,436.91 L306.80,433.95 L306.90,435.70 L307.00,438.68 L307.10,433.17 L307.20,434.30 L307.30,435.40 L307.40,430.91 L307.50,434.34 L307.60,435.89 L307.70,434.41 L307.80,436.40 L307.90,435.92 L308.00,433.93 L308.10,435.56 L308.20,435.39 L308.30,431.71 L308.40,433.11 L308.50,433.18 L308.60,433.58 L308.70,433.47 L308.80,431.38 L308.90,433.17 L309.00,428.66 L309.10,431.74 L309.20,428.00 L309.30,426.15 L309.40,424.28 L309.50,423.47 L309.50,423.22 L309.60,424.37 L309.70,425.81 L309.80,428.05 L309.90,431.40 L310.00,433.97 L310.10,433.07 L310.20,436.95 L310.30,434.17 L310.40,434.52 L310.50,435.78 L310.60,436.42 L310.70,437.08 L310.80,431.45 L310.90,437.02 L311.00,432.00 L311.10,433.66 L311.20,435.34 L311.30,436.71 L311.40,432.91 L311.50,431.72 L311.60,436.34 L311.70,435.24 L311.80,432.91 L311.90,434.15 L312.00,431.27 L312.10,435.72 L312.20,433.80 L312.30,436.91 L312.40,431.12 L312.50,436.01 L312.60,438.58 L312.70,434.97 L312.80,435.00 L312.90,431.45 L313.00,435.35 L313.10,434.79 L313.20,433.75 L313.30,432.03 L313.40,434.89 L313.50,432.98 L313.60,433.89 L313.70,435.30 L313.80,434.66 L313.90,434.75 L314.00,436.38 L314.10,432.70 L314.20,437.20 L314.30,432.78 L314.40,433.16 L314.50,434.98 L314.60,436.14 L314.70,435.21 L314.80,434.01 L314.90,433.54 L315.00,434.34 L315.10,433.12 L315.20,435.80 L315.30,434.44 L315.40,437.56 L315.50,433.53 L315.60,434.59 L315.70,435.58 L315.80,432.85 L315.90,433.67 L316.00,439.74 L316.10,434.80 L316.20,437.39 L316.30,433.03 L316.40,430.58 L316.50,435.78 L316.60,434.76 L316.70,435.32 L316.80,434.29 L316.90,433.78 L317.00,432.68 L317.10,436.61 L317.20,432.19 L317.30,436.52 L317.40,434.43 L317.50,432.92 L317.60,433.69 L317.70,436.54 L317.80,436.14 L317.90,435.73 L318.00,435.02 L318.10,432.96 L318.20,437.17 L318.30,434.14 L318.40,433.89 L318.50,433.99 L318.60,434.15 L318.70,432.33 L318.80,434.12 L318.90,433.48 L319.00,433.99 L319.10,431.87 L319.20,438.25 L319.30,432.76 L319.40,435.43 L319.50,435.47 L319.60,436.66 L319.70,438.22 L319.80,435.65 L319.90,436.18 L320.00,434.15 L320.10,437.53 L320.20,432.50 L320.30,434.46 L320.40,435.22 L320.50,435.71 L320.60,435.19 L320.70,434.55 L320.80,431.52 L320.90,427.71 L321.00,424.31 L321.10,421.19 L321.20,418.33 L321.30,417.53 L321.30,417.26 L321.40,417.77 L321.50,420.66 L321.60,424.33 L321.70,430.51 L321.80,433.00 L321.90,435.49 L322.00,432.54 L322.10,435.78 L322.20,434.65 L322.30,435.96 L322.40,434.77 L322.50,432.52 L322.60,436.13 L322.70,435.53 L322.80,436.31 L322.90,433.33 L323.00,436.43 L323.10,436.16 L323.20,435.67 L323.30,434.12 L323.40,429.35 L323.50,426.36 L323.60,425.32 L323.70,424.05 L323.70,424.23 L323.80,425.34 L323.90,427.09 L324.00,429.52 L324.10,432.86 L324.20,429.90 L324.30,437.48 L324.40,433.97 L324.50,434.24 L324.60,435.89 L324.70,434.64 L324.80,433.38 L324.90,434.64 L325.00,434.18 L325.10,433.70 L325.20,438.42 L325.30,432.33 L325.40,430.94 L325.50,433.18 L325.60,433.09 L325.70,437.21 L325.80,434.74 L325.90,435.46 L326.00,434.18 L326.10,430.19 L326.20,430.60 L326.30,429.21 L326.40,429.20 L326.40,428.74 L326.50,429.15 L326.60,430.57 L326.70,432.05 L326.80,429.87 L326.90,436.13 L327.00,436.34 L327.10,436.14 L327.20,432.74 L327.30,431.19 L327.40,434.27 L327.50,436.10 L327.60,435.59 L327.70,432.99 L327.80,436.43 L327.90,432.31 L328.00,432.38 L328.10,434.72 L328.20,433.71 L328.30,433.53 L328.40,432.13 L328.50,436.66 L328.60,432.77 L328.70,435.48 L328.80,436.16 L328.90,434.64 L329.00,435.19 L329.10,436.54 L329.20,437.60 L329.30,436.46 L329.40,432.28 L329.50,431.39 L329.60,433.68 L329.70,432.74 L329.80,435.70 L329.90,434.94 L330.00,434.31 L330.10,436.68 L330.20,436.52 L330.30,434.62 L330.40,435.34 L330.50,436.61 L330.60,434.01 L330.70,434.95 L330.80,432.29 L330.90,433.32 L331.00,432.74 L331.10,430.91 L331.20,429.95 L331.30,429.67 L331.30,429.61 L331.40,429.71 L331.50,430.77 L331.60,431.86 L331.70,436.26 L331.80,434.74 L331.90,435.19 L332.00,434.36 L332.10,435.52 L332.20,435.64 L332.30,433.38 L332.40,434.44 L332.50,436.79 L332.60,432.42 L332.70,433.00 L332.80,435.75 L332.90,433.29 L333.00,436.03 L333.10,432.77 L333.20,435.12 L333.30,436.14 L333.40,435.38 L333.50,436.07 L333.60,434.39 L333.70,434.42 L333.80,434.66 L333.90,435.69 L334.00,441.12 L334.10,434.52 L334.20,437.96 L334.30,434.11 L334.40,432.35 L334.50,433.44 L334.60,433.86 L334.70,432.23 L334.80,430.12 L334.90,427.80 L335.00,423.61 L335.10,418.69 L335.20,408.38 L335.30,403.26 L335.40,395.94 L335.50,390.25 L335.60,386.11 L335.70,384.74 L335.70,384.58 L335.80,385.91 L335.90,390.11 L336.00,396.35 L336.10,403.44 L336.20,407.54 L336.30,417.53 L336.40,423.07 L336.50,424.24 L336.60,427.94 L336.70,430.94 L336.80,433.84 L336.90,429.74 L337.00,433.58 L337.10,433.52 L337.20,434.88 L337.30,437.11 L337.40,436.98 L337.50,433.93 L337.60,433.96 L337.70,435.07 L337.80,436.70 L337.90,437.18 L338.00,435.22 L338.10,437.20 L338.20,433.06 L338.30,432.61 L338.40,429.66 L338.50,433.09 L338.60,435.67 L338.70,436.16 L338.80,440.69 L338.90,435.67 L339.00,434.93 L339.10,432.92 L339.20,433.54 L339.30,433.58 L339.40,434.24 L339.50,433.45 L339.60,432.06 L339.70,436.48 L339.80,435.41 L339.90,437.05 L340.00,431.75 L340.10,432.32 L340.20,433.27 L340.30,436.71 L340.40,434.29 L340.50,435.01 L340.60,434.45 L340.70,434.92 L340.80,433.68 L340.90,435.29 L341.00,433.08 L341.10,434.16 L341.20,435.10 L341.30,434.78 L341.40,435.36 L341.50,433.15 L341.60,435.06 L341.70,434.06 L341.80,435.27 L341.90,437.20 L342.00,432.98 L342.10,436.44 L342.20,433.38 L342.30,433.84 L342.40,437.50 L342.50,436.24 L342.60,435.48 L342.70,436.02 L342.80,436.66 L342.90,433.27 L343.00,434.99 L343.10,433.89 L343.20,435.33 L343.30,434.03 L343.40,435.89 L343.50,434.61 L343.60,433.54 L343.70,434.48 L343.80,435.37 L343.90,436.48 L344.00,434.26 L344.10,433.95 L344.20,435.01 L344.30,435.92 L344.40,433.60 L344.50,430.17 L344.60,435.09 L344.70,433.96 L344.80,433.89 L344.90,439.09 L345.00,434.33 L345.10,435.80 L345.20,432.10 L345.30,435.00 L345.40,435.92 L345.50,434.93 L345.60,434.25 L345.70,435.53 L345.80,434.64 L345.90,436.94 L346.00,434.94 L346.10,433.17 L346.20,431.05 L346.30,433.29 L346.40,434.05 L346.50,432.44 L346.60,432.73 L346.70,431.59 L346.80,432.62 L346.90,434.74 L347.00,434.07 L347.10,434.21 L347.20,433.99 L347.30,434.17 L347.40,435.91 L347.50,438.25 L347.60,435.71 L347.70,438.11 L347.80,434.40 L347.90,434.51 L348.00,437.49 L348.10,433.30 L348.20,432.98 L348.30,434.35 L348.40,431.56 L348.50,431.20 L348.60,436.65 L348.70,432.68 L348.80,433.73 L348.90,433.77 L349.00,432.85 L349.10,435.78 L349.20,435.56 L349.30,435.97 L349.40,435.84 L349.50,434.68 L349.60,437.08 L349.70,436.36 L349.80,433.48 L349.90,434.63 L350.00,433.82 L350.10,437.87 L350.20,435.94 L350.30,435.56 L350.40,434.54 L350.50,435.66 L350.60,433.00 L350.70,434.78 L350.80,434.67 L350.90,434.70 L351.00,433.50 L351.10,435.61 L351.20,432.82 L351.30,434.02 L351.40,434.58 L351.50,434.80 L351.60,433.99 L351.70,433.14 L351.80,433.29 L351.90,434.32 L352.00,433.46 L352.10,434.82 L352.20,432.86 L352.30,435.12 L352.40,438.73 L352.50,432.79 L352.60,434.96 L352.70,437.22 L352.80,435.55 L352.90,436.77 L353.00,431.59 L353.10,434.41 L353.20,438.03 L353.30,434.38 L353.40,436.04 L353.50,432.05 L353.60,437.23 L353.70,439.32 L353.80,435.34 L353.90,436.08 L354.00,436.22 L354.10,439.23 L354.20,434.81 L354.30,432.68 L354.40,438.89 L354.50,433.60 L354.60,436.63 L354.70,431.63 L354.80,434.95 L354.90,436.05 L355.00,433.85 L355.10,434.87 L355.20,436.82 L355.30,434.61 L355.40,436.73 L355.50,438.94 L355.60,432.42 L355.70,436.52 L355.80,436.99 L355.90,435.40 L356.00,438.66 L356.10,438.34 L356.20,436.90 L356.30,436.96 L356.40,435.98 L356.50,434.21 L356.60,436.96 L356.70,435.34 L356.80,435.18 L356.90,438.07 L357.00,435.86 L357.10,437.87 L357.20,434.50 L357.30,435.55 L357.40,436.32 L357.50,438.64 L357.60,436.20 L357.70,437.72 L357.80,435.26 L357.90,436.68 L358.00,437.87 L358.10,434.99 L358.20,435.39 L358.30,437.65 L358.40,434.75 L358.50,437.25 L358.60,437.32 L358.70,436.64 L358.80,438.15 L358.90,437.69 L359.00,437.27 L359.10,434.51 L359.20,434.61 L359.30,437.58 L359.40,434.54 L359.50,437.32 L359.60,436.67 L359.70,435.90 L359.80,436.92 L359.90,433.49 L360.00,437.10 L360.10,439.51 L360.20,435.47 L360.30,438.32 L360.40,438.20 L360.50,442.61 L360.60,436.18 L360.70,436.52 L360.80,436.61 L360.90,436.37 L361.00,435.27 L361.10,438.12 L361.20,436.59 L361.30,439.34 L361.40,438.77 L361.50,436.56 L361.60,437.67 L361.70,440.48 L361.80,437.82 L361.90,438.74 L362.00,439.80 L362.10,437.86 L362.20,439.24 L362.30,441.13 L362.40,440.45 L362.50,435.96 L362.60,441.18 L362.70,438.50 L362.80,437.94 L362.90,437.95 L363.00,440.92 L363.10,439.55 L363.20,438.88 L363.30,437.91 L363.40,440.20 L363.50,441.05 L363.60,437.75 L363.70,437.64 L363.80,438.83 L363.90,440.39 L364.00,438.87 L364.10,439.38 L364.20,438.32 L364.30,441.56 L364.40,439.52 L364.50,439.99 L364.60,441.49 L364.70,439.52 L364.80,439.83 L364.90,440.51 L365.00,439.25 L365.10,441.79 L365.20,439.36 L365.30,438.01 L365.40,437.36 L365.50,436.48 L365.60,435.94 L365.70,435.23 L365.80,434.55 L365.80,434.50 L365.90,434.43 L366.00,435.57 L366.10,436.98 L366.20,436.65 L366.30,440.04 L366.40,441.63 L366.50,435.87 L366.60,439.51 L366.70,439.04 L366.80,439.31 L366.90,437.46 L367.00,439.77 L367.10,438.38 L367.20,441.76 L367.30,442.32 L367.40,438.10 L367.50,438.04 L367.60,439.49 L367.70,439.93 L367.80,440.03 L367.90,441.32 L368.00,438.00 L368.10,439.32 L368.20,439.56 L368.30,439.77 L368.40,438.77 L368.50,439.60 L368.60,439.25 L368.70,442.11 L368.80,439.60 L368.90,437.08 L369.00,441.04 L369.10,440.26 L369.20,438.30 L369.30,437.37 L369.40,436.50 L369.50,437.89 L369.60,433.02 L369.70,431.05 L369.80,429.23 L369.90,428.28 L369.90,428.47 L370.00,428.88 L370.10,430.13 L370.20,433.01 L370.30,434.49 L370.40,438.85 L370.50,439.87 L370.60,441.34 L370.70,441.01 L370.80,442.06 L370.90,441.52 L371.00,440.89 L371.10,442.09 L371.20,442.72 L371.30,442.64 L371.40,439.97 L371.50,440.56 L371.60,439.14 L371.70,439.13 L371.80,441.18 L371.90,439.70 L372.00,442.83 L372.10,437.34 L372.20,438.96 L372.30,441.05 L372.40,442.46 L372.50,440.19 L372.60,443.52 L372.70,441.92 L372.80,439.68 L372.90,440.68 L373.00,441.52 L373.10,439.41 L373.20,442.35 L373.30,440.41 L373.40,441.57 L373.50,442.09 L373.60,440.18 L373.70,442.33 L373.80,438.09 L373.90,441.75 L374.00,437.98 L374.10,442.51 L374.20,440.03 L374.30,442.69 L374.40,442.90 L374.50,440.72 L374.60,439.97 L374.70,442.83 L374.80,439.25 L374.90,442.16 L375.00,440.81 L375.10,440.47 L375.20,440.18 L375.30,443.69 L375.40,438.73 L375.50,440.29 L375.60,441.75 L375.70,442.64 L375.80,443.64 L375.90,443.17 L376.00,440.43 L376.10,441.74 L376.20,442.90 L376.30,442.05 L376.40,439.05 L376.50,441.81 L376.60,442.19 L376.70,439.43 L376.80,440.73 L376.90,441.35 L377.00,442.31 L377.10,443.69 L377.20,443.16 L377.30,442.19 L377.40,441.84 L377.50,441.04 L377.60,440.78 L377.70,441.28 L377.80,441.30 L377.90,443.08 L378.00,444.73 L378.10,442.42 L378.20,443.06 L378.30,442.65 L378.40,442.14 L378.50,443.53 L378.60,443.37 L378.70,441.96 L378.80,441.67 L378.90,442.79 L379.00,441.18 L379.10,442.21 L379.20,443.36 L379.30,441.89 L379.40,439.32 L379.50,442.94 L379.60,440.37 L379.70,440.10 L379.80,439.95 L379.90,443.23 L380.00,439.28 L380.10,441.96 L380.20,442.50 L380.30,442.49 L380.40,441.35 L380.50,442.14 L380.60,442.48 L380.70,440.47 L380.80,443.28 L380.90,443.75 L381.00,441.22 L381.10,441.37 L381.20,440.85 L381.30,443.87 L381.40,440.91 L381.50,441.76 L381.60,440.02 L381.70,444.20 L381.80,442.20 L381.90,442.90 L382.00,444.73 L382.10,443.54 L382.20,441.04 L382.30,443.25 L382.40,443.62 L382.50,441.46 L382.60,441.32 L382.70,441.35 L382.80,443.79 L382.90,442.82 L383.00,441.36 L383.10,443.67 L383.20,443.82 L383.30,441.70 L383.40,440.73 L383.50,444.43 L383.60,446.41 L383.70,444.88 L383.80,444.30 L383.90,443.14 L384.00,442.15 L384.10,443.20 L384.20,443.97 L384.30,442.84 L384.40,444.36 L384.50,443.15 L384.60,443.97 L384.70,439.54 L384.80,442.06 L384.90,444.29 L385.00,444.53 L385.10,443.79 L385.20,445.41 L385.30,444.20 L385.40,444.21 L385.50,442.05 L385.60,443.81 L385.70,444.30 L385.80,445.04 L385.90,444.83 L386.00,443.36 L386.10,443.56 L386.20,441.77 L386.30,444.12 L386.40,441.88 L386.50,442.96 L386.60,443.31 L386.70,445.98 L386.80,445.01 L386.90,442.28 L387.00,441.32 L387.10,442.71 L387.20,441.60 L387.30,442.55 L387.40,441.64 L387.50,440.23 L387.60,438.87 L387.70,438.22 L387.80,438.05 L387.80,438.07 L387.90,438.19 L388.00,439.02 L388.10,440.30 L388.20,438.93 L388.30,441.74 L388.40,442.68 L388.50,441.12 L388.60,441.93 L388.70,443.50 L388.80,442.72 L388.90,444.87 L389.00,444.31 L389.10,446.46 L389.20,441.87 L389.30,445.99 L389.40,442.59 L389.50,444.60 L389.60,444.80 L389.70,443.77 L389.80,443.17 L389.90,442.72 L390.00,441.20 L390.10,443.07 L390.20,442.39 L390.30,444.34 L390.40,442.62 L390.50,443.36 L390.60,444.18 L390.70,443.71 L390.80,443.67 L390.90,443.34 L391.00,443.07 L391.10,444.28 L391.20,444.59 L391.30,442.64 L391.40,445.85 L391.50,444.44 L391.60,441.60 L391.70,447.20 L391.80,444.56 L391.90,442.76 L392.00,445.83 L392.10,440.27 L392.20,447.07 L392.30,441.81 L392.40,441.65 L392.50,442.50 L392.60,444.00 L392.70,443.25 L392.80,444.89 L392.90,442.67 L393.00,445.20 L393.10,444.10 L393.20,442.45 L393.30,445.21 L393.40,444.24 L393.50,443.55 L393.60,445.52 L393.70,442.26 L393.80,443.34 L393.90,445.77 L394.00,443.86 L394.10,444.82 L394.20,444.67 L394.30,443.72 L394.40,444.75 L394.50,442.58 L394.60,444.76 L394.70,442.57 L394.80,443.91 L394.90,442.75 L395.00,444.57 L395.10,444.53 L395.20,445.38 L395.30,443.14 L395.40,442.68 L395.50,441.15 L395.60,442.23 L395.70,443.59 L395.80,444.19 L395.90,443.42 L396.00,443.97 L396.10,442.04 L396.20,442.72 L396.30,445.04 L396.40,444.85 L396.50,442.19 L396.60,443.56 L396.70,444.23 L396.80,442.31 L396.90,444.18 L397.00,443.71 L397.10,443.40 L397.20,444.56 L397.30,440.92 L397.40,440.39 L397.50,439.56 L397.60,439.34 L397.60,439.06 L397.70,439.48 L397.80,440.17 L397.90,441.45 L398.00,442.19 L398.10,444.77 L398.20,443.03 L398.30,443.30 L398.40,443.98 L398.50,441.42 L398.60,443.41 L398.70,443.34 L398.80,443.94 L398.90,444.37 L399.00,442.89 L399.10,442.73 L399.20,445.82 L399.30,442.80 L399.40,443.50 L399.50,442.93 L399.60,443.58 L399.70,445.77 L399.80,445.69 L399.90,441.86 L400.00,443.88 L400.10,446.03 L400.20,443.79 L400.30,444.71 L400.40,446.62 L400.50,447.20 L400.60,446.34 L400.70,443.97 L400.80,444.39 L400.90,444.66 L401.00,444.00 L401.10,443.61 L401.20,447.06 L401.30,444.79 L401.40,445.47 L401.50,446.00 L401.60,445.15 L401.70,444.63 L401.80,444.82 L401.90,446.34 L402.00,445.13 L402.10,442.00 L402.20,445.88 L402.30,446.69 L402.40,444.24 L402.50,443.85 L402.60,444.03 L402.70,446.03 L402.80,443.40 L402.90,445.65 L403.00,446.10 L403.10,445.46 L403.20,444.85 L403.30,443.84 L403.40,443.97 L403.50,444.78 L403.60,443.60 L403.70,444.64 L403.80,443.56 L403.90,446.23 L404.00,446.01 L404.10,442.29 L404.20,443.64 L404.30,440.39 L404.40,437.73 L404.50,435.52 L404.60,433.81 L404.70,432.84 L404.70,433.57 L404.80,433.59 L404.90,435.07 L405.00,437.81 L405.10,440.17 L405.20,441.19 L405.30,441.20 L405.40,445.74 L405.50,444.63 L405.60,445.19 L405.70,444.38 L405.80,444.92 L405.90,444.34 L406.00,445.67 L406.10,445.12 L406.20,446.01 L406.30,446.02 L406.40,445.40 L406.50,445.41 L406.60,446.68 L406.70,443.37 L406.80,445.45 L406.90,446.98 L407.00,443.99 L407.10,446.24 L407.20,444.74 L407.30,445.39 L407.40,445.08 L407.50,445.19 L407.60,446.11 L407.70,445.38 L407.80,443.01 L407.90,448.14 L408.00,445.40 L408.10,444.98 L408.20,446.77 L408.30,447.16 L408.40,442.97 L408.50,446.00 L408.60,443.10 L408.70,444.96 L408.80,445.52 L408.90,445.06 L409.00,444.89 L409.10,444.26 L409.20,445.16 L409.30,445.52 L409.40,445.50 L409.50,444.12 L409.60,444.77 L409.70,446.93 L409.80,446.52 L409.90,445.40 L410.00,446.53 L410.10,446.25 L410.20,446.94 L410.30,446.14 L410.40,445.35 L410.50,444.70 L410.60,445.86 L410.70,443.46 L410.80,445.99 L410.90,442.18 L411.00,444.75 L411.10,445.35 L411.20,446.53 L411.30,449.24 L411.40,446.15 L411.50,445.77 L411.60,443.76 L411.70,447.60 L411.80,443.81 L411.90,446.32 L412.00,445.20 L412.10,448.99 L412.20,445.90 L412.30,446.47 L412.40,445.30 L412.50,445.99 L412.60,447.43 L412.70,445.03 L412.80,445.34 L412.90,445.46 L413.00,445.00 L413.10,444.91 L413.20,446.21 L413.30,447.75 L413.40,447.79 L413.50,444.67 L413.60,445.42 L413.70,446.13 L413.80,446.75 L413.90,446.23 L414.00,446.25 L414.10,446.68 L414.20,447.10 L414.30,443.85 L414.40,446.07 L414.50,447.03 L414.60,447.83 L414.70,447.19 L414.80,445.56 L414.90,445.53 L415.00,446.65 L415.10,446.35 L415.20,446.77 L415.30,447.69 L415.40,444.98 L415.50,446.04 L415.60,443.68 L415.70,447.34 L415.80,446.65 L415.90,445.52 L416.00,446.80 L416.10,448.09 L416.20,447.61 L416.30,446.44 L416.40,446.18 L416.50,446.69 L416.60,445.47 L416.70,445.49 L416.80,446.26 L416.90,446.60 L417.00,446.92 L417.10,446.04 L417.20,445.64 L417.30,446.61 L417.40,446.19 L417.50,447.06 L417.60,448.28 L417.70,447.83 L417.80,445.89 L417.90,446.25 L418.00,445.00 L418.10,446.71 L418.20,445.83 L418.30,445.34 L418.40,445.71 L418.50,447.49 L418.60,447.04 L418.70,446.70 L418.80,447.94 L418.90,446.35 L419.00,445.76 L419.10,447.42 L419.20,444.74 L419.30,447.23 L419.40,447.15 L419.50,447.20 L419.60,447.72 L419.70,446.51 L419.80,446.95 L419.90,445.18 L420.00,446.34 L420.10,446.42 L420.20,447.25 L420.30,448.55 L420.40,447.12 L420.50,447.95 L420.60,446.00 L420.70,447.07 L420.80,445.23 L420.90,446.25 L421.00,446.14 L421.10,446.81 L421.20,446.83 L421.30,446.36 L421.40,446.07 L421.50,447.84 L421.60,446.55 L421.70,444.25 L421.80,447.19 L421.90,447.37 L422.00,447.85 L422.10,448.67 L422.20,445.83 L422.30,447.05 L422.40,446.80 L422.50,445.13 L422.60,444.42 L422.70,448.09 L422.80,446.00 L422.90,446.47 L423.00,446.72 L423.10,446.64 L423.20,447.18 L423.30,445.45 L423.40,446.51 L423.50,446.80 L423.60,445.84 L423.70,446.22 L423.80,446.69 L423.90,446.84 L424.00,445.31 L424.10,446.66 L424.20,447.30 L424.30,448.13 L424.40,447.59 L424.50,448.35 L424.60,447.11 L424.70,446.96 L424.80,449.43 L424.90,447.22 L425.00,446.55 L425.10,447.07 L425.20,448.28 L425.30,445.91 L425.40,448.01 L425.50,448.58 L425.60,448.43 L425.70,447.30 L425.80,446.24 L425.90,446.05 L426.00,447.07 L426.10,448.57 L426.20,448.01 L426.30,448.27 L426.40,447.51 L426.50,449.21 L426.60,447.21 L426.70,446.65 L426.80,447.50 L426.90,446.85 L427.00,448.35 L427.10,448.90 L427.20,448.04 L427.30,446.14 L427.40,446.28 L427.50,447.86 L427.60,446.10 L427.70,447.73 L427.80,445.79 L427.90,446.88 L428.00,447.88 L428.10,446.56 L428.20,448.23 L428.30,448.40 L428.40,448.95 L428.50,447.13 L428.60,447.42 L428.70,447.34 L428.80,447.46 L428.90,445.08 L429.00,446.33 L429.10,445.64 L429.20,443.46 L429.30,442.22 L429.40,441.48 L429.50,441.47 L429.50,441.29 L429.60,441.45 L429.70,442.46 L429.80,443.44 L429.90,446.35 L430.00,445.22 L430.10,447.31 L430.20,445.71 L430.30,447.41 L430.40,446.37 L430.50,448.18 L430.60,449.00 L430.70,448.70 L430.80,448.18 L430.90,448.62 L431.00,446.29 L431.10,446.15 L431.20,447.27 L431.30,448.65 L431.40,447.69 L431.50,448.29 L431.60,446.06 L431.70,447.25 L431.80,447.08 L431.90,448.01 L432.00,449.70 L432.10,448.41 L432.20,448.78 L432.30,447.23 L432.40,447.52 L432.50,448.46 L432.60,448.03 L432.70,446.00 L432.80,448.64 L432.90,448.60 L433.00,447.89 L433.10,448.38 L433.20,448.11 L433.30,447.11 L433.40,445.87 L433.50,449.52 L433.60,447.70 L433.70,447.64 L433.80,447.78 L433.90,447.89 L434.00,448.05 L434.10,446.66 L434.20,448.19 L434.30,447.85 L434.40,447.72 L434.50,447.61 L434.60,447.91 L434.70,446.70 L434.80,447.75 L434.90,447.57 L435.00,447.80 L435.10,448.79 L435.20,448.62 L435.30,448.85 L435.40,447.57 L435.50,448.51 L435.60,448.87 L435.70,447.54 L435.80,447.25 L435.90,449.61 L436.00,446.06 L436.10,447.77 L436.20,447.92 L436.30,446.72 L436.40,447.75 L436.50,448.45 L436.60,445.58 L436.70,448.94 L436.80,447.94 L436.90,446.98 L437.00,448.95 L437.10,447.96 L437.20,447.46 L437.30,445.41 L437.40,448.78 L437.50,447.92 L437.60,447.19 L437.70,447.76 L437.80,449.00 L437.90,447.17 L438.00,447.09 L438.10,446.01 L438.20,444.10 L438.30,442.51 L438.40,441.41 L438.50,439.36 L438.60,438.04 L438.70,437.32 L438.70,437.27 L438.80,437.94 L438.90,439.41 L439.00,441.63 L439.10,442.02 L439.20,443.12 L439.30,446.92 L439.40,446.86 L439.50,447.91 L439.60,446.58 L439.70,447.50 L439.80,447.90 L439.90,448.22 L440.00,447.87 L440.10,449.02 L440.20,447.32 L440.30,448.73 L440.40,447.47 L440.50,447.88 L440.60,446.91 L440.70,448.04 L440.80,446.99 L440.90,448.96 L441.00,447.41 L441.10,448.26 L441.20,447.84 L441.30,447.97 L441.40,447.10 L441.50,450.09 L441.60,447.72 L441.70,449.56 L441.80,446.84 L441.90,450.05 L442.00,449.07 L442.10,449.75 L442.20,446.41 L442.30,449.37 L442.40,447.96 L442.50,448.62 L442.60,449.89 L442.70,448.42 L442.80,447.42 L442.90,448.27 L443.00,447.14 L443.10,448.46 L443.20,448.09 L443.30,448.49 L443.40,447.76 L443.50,446.19 L443.60,447.74 L443.70,447.92 L443.80,448.74 L443.90,448.88 L444.00,446.65 L444.10,449.24 L444.20,449.04 L444.30,448.23 L444.40,448.56 L444.50,446.17 L444.60,450.51 L444.70,447.78 L444.80,447.43 L444.90,449.27 L445.00,448.80 L445.10,447.72 L445.20,446.52 L445.30,449.08 L445.40,449.74 L445.50,447.19 L445.60,446.64 L445.70,448.51 L445.80,450.39 L445.90,446.72 L446.00,448.38 L446.10,447.06 L446.20,448.23 L446.30,448.56 L446.40,448.64 L446.50,446.72 L446.60,446.76 L446.70,450.34 L446.80,449.14 L446.90,446.43 L447.00,448.58 L447.10,449.57 L447.20,448.21 L447.30,448.33 L447.40,448.32 L447.50,448.70 L447.60,448.54 L447.70,448.69 L447.80,447.90 L447.90,449.05 L448.00,448.53 L448.10,448.39 L448.20,446.95 L448.30,447.88 L448.40,448.36 L448.50,447.72 L448.60,447.85 L448.70,447.18 L448.80,447.76 L448.90,446.48 L449.00,446.93 L449.10,448.31 L449.20,448.69 L449.30,447.40 L449.40,447.77 L449.50,448.38 L449.60,449.75 L449.70,450.11 L449.80,447.95 L449.90,447.53 L450.00,447.50 L450.10,449.58 L450.20,447.28 L450.30,448.84 L450.40,447.93 L450.50,447.90 L450.60,449.11 L450.70,448.91 L450.80,450.38 L450.90,449.23 L451.00,450.11 L451.10,447.90 L451.20,448.28 L451.30,447.44 L451.40,447.99 L451.50,448.97 L451.60,448.01 L451.70,448.74 L451.80,447.75 L451.90,448.05 L452.00,449.34 L452.10,448.36 L452.20,448.31 L452.30,448.67 L452.40,447.49 L452.50,446.69 L452.60,448.74 L452.70,448.73 L452.80,450.60 L452.90,448.51 L453.00,448.82 L453.10,450.52 L453.20,448.11 L453.30,447.82 L453.40,449.12 L453.50,448.77 L453.60,449.36 L453.70,447.66 L453.80,449.91 L453.90,448.72 L454.00,446.50 L454.10,448.36 L454.20,447.93 L454.30,448.47 L454.40,449.32 L454.50,447.87 L454.60,446.80 L454.70,447.16 L454.80,444.34 L454.90,442.71 L455.00,440.96 L455.10,440.02 L455.20,439.44 L455.20,439.54 L455.30,439.64 L455.40,441.04 L455.50,442.81 L455.60,445.56 L455.70,447.33 L455.80,447.16 L455.90,447.78 L456.00,449.05 L456.10,448.24 L456.20,447.82 L456.30,448.26 L456.40,449.50 L456.50,450.56 L456.60,448.75 L456.70,448.34 L456.80,448.76 L456.90,448.92 L457.00,449.18 L457.10,447.82 L457.20,448.57 L457.30,448.40 L457.40,449.47 L457.50,449.13 L457.60,448.37 L457.70,449.51 L457.80,449.76 L457.90,448.86 L458.00,447.37 L458.10,448.36 L458.20,447.13 L458.30,448.68 L458.40,448.85 L458.50,449.91 L458.60,449.12 L458.70,447.17 L458.80,448.25 L458.90,447.86 L459.00,447.89 L459.10,448.58 L459.20,448.77 L459.30,448.46 L459.40,447.93 L459.50,448.14 L459.60,448.11 L459.70,448.44 L459.80,449.34 L459.90,448.85 L460.00,449.51 L460.10,447.63 L460.20,450.64 L460.30,448.81 L460.40,446.29 L460.50,448.93 L460.60,449.70 L460.70,448.62 L460.80,447.35 L460.90,448.76 L461.00,448.01 L461.10,448.50 L461.20,448.96 L461.30,445.55 L461.40,448.53 L461.50,449.12 L461.60,449.07 L461.70,448.23 L461.80,448.20 L461.90,447.85 L462.00,448.46 L462.10,449.99 L462.20,448.08 L462.30,448.90 L462.40,448.88 L462.50,450.04 L462.60,449.16 L462.70,449.30 L462.80,448.64 L462.90,450.01 L463.00,448.55 L463.10,448.48 L463.20,449.68 L463.30,449.20 L463.40,449.42 L463.50,447.67 L463.60,450.93 L463.70,448.66 L463.80,449.64 L463.90,447.97 L464.00,446.05 L464.10,446.14 L464.20,445.22 L464.30,444.75 L464.40,444.12 L464.40,444.27 L464.50,444.46 L464.60,445.43 L464.70,446.21 L464.80,445.83 L464.90,447.74 L465.00,448.28 L465.10,448.00 L465.20,449.70 L465.30,447.80 L465.40,448.57 L465.50,448.13 L465.60,449.25 L465.70,448.10 L465.80,449.28 L465.90,447.67 L466.00,447.50 L466.10,447.71 L466.20,448.10 L466.30,447.98 L466.40,451.23 L466.50,447.79 L466.60,448.87 L466.70,448.51 L466.80,448.88 L466.90,449.95 L467.00,449.12 L467.10,447.96 L467.20,447.22 L467.30,449.21 L467.40,449.48 L467.50,447.19 L467.60,449.46 L467.70,446.58 L467.80,448.55 L467.90,449.46 L468.00,447.64 L468.10,446.95 L468.20,449.99 L468.30,447.08 L468.40,448.87 L468.50,447.16 L468.60,448.97 L468.70,450.13 L468.80,448.11 L468.90,447.70 L469.00,446.56 L469.10,446.92 L469.20,447.92 L469.30,448.83 L469.40,449.11 L469.50,448.89 L469.60,449.41 L469.70,448.87 L469.80,451.08 L469.90,448.43 L470.00,448.63 L470.10,446.10 L470.20,447.86 L470.30,449.07 L470.40,448.05 L470.50,449.79 L470.60,449.19 L470.70,450.42 L470.80,447.20 L470.90,448.02 L471.00,449.74 L471.10,448.66 L471.20,447.68 L471.30,448.12 L471.40,448.23 L471.50,449.44 L471.60,449.22 L471.70,448.51 L471.80,447.70 L471.90,449.41 L472.00,449.69 L472.10,447.49 L472.20,449.51 L472.30,447.55 L472.40,448.36 L472.50,447.74 L472.60,446.90 L472.70,447.93 L472.80,447.84 L472.90,449.49 L473.00,449.28 L473.10,447.97 L473.20,447.11 L473.30,447.24 L473.40,446.34 L473.50,448.30 L473.60,448.40 L473.70,447.62 L473.80,448.58 L473.90,448.66 L474.00,449.62 L474.10,447.63 L474.20,449.64 L474.30,448.10 L474.40,449.98 L474.50,447.53 L474.60,449.60 L474.70,447.78 L474.80,450.15 L474.90,449.03 L475.00,447.45 L475.10,449.39 L475.20,448.53 L475.30,449.07 L475.40,450.85 L475.50,448.30 L475.60,448.18 L475.70,449.68 L475.80,448.04 L475.90,449.38 L476.00,449.58 L476.10,448.59 L476.20,449.26 L476.30,446.36 L476.40,450.12 L476.50,447.88 L476.60,447.64 L476.70,450.53 L476.80,450.29 L476.90,448.05 L477.00,449.07 L477.10,448.23 L477.20,447.49 L477.30,448.96 L477.40,449.64 L477.50,451.26 L477.60,448.40 L477.70,449.51 L477.80,448.29 L478.30,448.40 L479.20,447.60 L480.00,445.50 L480.60,441.00 L481.20,430.00 L481.70,415.00 L482.30,300.00 L482.50,200.00 L483.20,170.00 L483.40,120.00 L483.75,88.00 L484.20,83.50 L484.65,88.00 L485.00,120.00 L485.20,170.00 L485.90,200.00 L485.90,275.00 L486.30,423.00 L486.80,438.00 L487.50,446.50 L488.30,449.00 L488.90,449.50 L489.50,448.80 L490.10,443.50 L490.40,412.00 L491.35,389.30 L492.10,412.00 L492.40,444.00 L492.90,448.50 L493.50,450.20 L493.70,449.64 L493.80,451.01 L493.90,449.69 L494.00,450.92 L494.10,449.23 L494.20,449.38 L494.30,450.79 L494.40,450.60 L494.50,451.09 L494.60,450.30 L494.70,449.58 L494.80,451.59 L494.90,449.78 L495.00,451.52 L495.10,451.16 L495.20,451.88 L495.30,448.89 L495.40,450.46 L495.50,450.32 L495.60,451.03 L495.70,449.69 L495.80,452.13 L495.90,450.49 L496.00,448.82 L496.10,450.81 L496.20,450.51 L496.30,450.01 L496.40,451.14 L496.50,450.51 L496.60,449.79 L496.70,450.38 L496.80,450.25 L496.90,450.80 L497.00,450.29 L497.10,450.49 L497.20,449.42 L497.30,449.98 L497.40,450.72 L497.50,452.41 L497.60,450.00 L497.70,449.97 L497.80,451.24 L497.90,452.07 L498.00,451.42 L498.10,449.84 L498.20,451.36 L498.30,450.90 L498.40,450.39 L498.50,449.63 L498.60,450.57 L498.70,450.64 L498.80,450.98 L498.90,449.32 L499.00,449.75 L499.10,450.64 L499.20,451.63 L499.30,451.17 L499.40,450.13 L499.50,451.12 L499.60,449.90 L499.70,450.30 L499.80,450.36 L499.90,450.08 L500.00,450.20 L500.10,451.23 L500.20,450.83 L500.30,448.82 L500.40,451.50 L500.50,450.95 L500.60,449.78 L500.70,450.71 L500.80,451.21 L500.90,451.59 L501.00,450.19 L501.10,449.83 L501.20,449.54 L501.30,450.56 L501.40,449.82 L501.50,451.38 L501.60,450.48 L501.70,451.12 L501.80,450.48 L501.90,450.05 L502.00,449.81 L502.10,451.36 L502.20,449.66 L502.30,450.97 L502.40,451.39 L502.50,450.75 L502.60,451.72 L502.70,450.62 L502.80,450.41 L502.90,450.78 L503.00,450.23 L503.10,450.87 L503.20,450.63 L503.30,451.71 L503.40,450.60 L503.50,451.27 L503.60,450.97 L503.70,450.71 L503.80,450.50 L503.90,451.87 L504.00,451.81 L504.10,450.87 L504.20,450.29 L504.30,450.38 L504.40,449.98 L504.50,449.68 L504.60,450.28 L504.70,450.67 L504.80,451.42 L504.90,451.36 L505.00,451.01 L505.10,450.46 L505.20,450.50 L505.30,450.66 L505.40,450.78 L505.50,450.20 L505.60,450.51 L505.70,450.45 L505.80,450.44 L505.90,451.08 L506.00,451.44 L506.10,450.31 L506.20,450.37 L506.30,450.84 L506.40,450.99 L506.50,449.00 L506.60,451.25 L506.70,450.85 L506.80,450.49 L506.90,451.54 L507.00,450.61 L507.10,449.37 L507.20,450.01 L507.30,450.23 L507.40,450.26 L507.50,450.62 L507.60,449.99 L507.70,450.82 L507.80,451.02 L507.90,450.63 L508.00,450.04 L508.10,450.47 L508.20,450.21 L508.30,452.20 L508.40,449.84 L508.50,448.99 L508.60,449.74 L508.70,450.95 L508.80,451.34 L508.90,450.52 L509.00,451.45 L509.10,450.19 L509.20,451.11 L509.30,450.02 L509.40,449.73 L509.50,452.22 L509.60,450.52 L509.70,451.25 L509.80,451.77 L509.90,451.19 L510.00,450.90 L510.10,449.99 L510.20,451.86 L510.30,449.98 L510.40,449.27 L510.50,450.31 L510.60,450.35 L510.70,450.76 L510.80,451.61 L510.90,450.36 L511.00,450.48 L511.10,450.22 L511.20,448.89 L511.30,450.23 L511.40,450.45 L511.50,449.63 L511.60,451.74 L511.70,451.60 L511.80,451.04 L511.90,451.25 L512.00,450.27 L512.10,451.00 L512.20,449.51 L512.30,449.67 L512.40,450.22 L512.50,451.06 L512.60,450.33 L512.70,450.20 L512.80,451.56 L512.90,450.53 L513.00,450.28 L513.10,450.63 L513.20,449.65 L513.30,449.91 L513.40,451.39 L513.50,450.71 L513.60,451.40 L513.70,450.38 L513.80,451.43 L513.90,450.14 L514.00,450.52 L514.10,450.11 L514.20,450.91 L514.30,451.86 L514.40,449.54 L514.50,450.94 L514.60,449.82 L514.70,450.51 L514.80,450.33 L514.90,449.50 L515.00,450.58 L515.10,449.82 L515.20,451.89 L515.30,450.20 L515.40,451.00 L515.50,450.92 L515.60,450.82 L515.70,450.58 L515.80,449.64 L515.90,452.16 L516.00,450.80 L516.10,451.35 L516.20,450.00 L516.30,451.14 L516.40,450.52 L516.50,451.13 L516.60,450.37 L516.70,450.12 L516.80,451.13 L516.90,450.82 L517.00,451.87 L517.10,450.64 L517.20,450.24 L517.30,451.25 L517.40,450.06 L517.50,452.34 L517.60,452.18 L517.70,451.85 L517.80,451.21 L517.90,450.85 L518.00,450.92 L518.10,450.92 L518.20,450.36 L518.30,451.21 L518.70,450.70 L519.20,450.30 L519.35,411.00 L520.05,300.00 L520.40,202.00 L520.70,192.50 L521.00,202.00 L521.50,300.00 L522.25,411.00 L522.60,449.50 L522.95,450.50 L523.20,446.71 L523.30,442.58 L523.40,439.67 L523.50,437.69 L523.60,437.00 L523.60,436.99 L523.70,437.68 L523.80,439.81 L523.90,442.45 L524.00,445.12 L524.10,449.00 L524.20,449.33 L524.30,449.09 L524.40,450.83 L524.50,450.90 L524.60,451.33 L524.70,451.28 L524.80,450.17 L524.90,451.15 L525.00,451.67 L525.10,453.13 L525.20,451.36 L525.30,452.33 L525.40,452.23 L525.50,450.42 L525.60,450.48 L525.70,452.30 L525.80,450.38 L525.90,450.65 L526.00,451.52 L526.10,450.47 L526.20,452.11 L526.30,451.81 L526.40,451.98 L526.50,451.75 L526.60,450.37 L526.70,451.91 L526.80,451.78 L526.90,451.64 L527.00,450.85 L527.10,451.22 L527.20,450.39 L527.30,451.48 L527.40,451.88 L527.50,451.34 L527.60,450.97 L527.70,451.64 L527.80,450.81 L527.90,449.75 L528.00,451.41 L528.10,450.98 L528.20,450.08 L528.30,451.46 L528.40,451.60 L528.50,451.77 L528.60,450.74 L528.70,450.66 L528.80,451.12 L528.90,450.99 L529.00,450.15 L529.10,450.43 L529.20,451.99 L529.30,451.04 L529.40,450.96 L529.50,450.54 L529.60,451.19 L529.70,451.48 L529.80,451.35 L529.90,452.26 L530.00,451.06 L530.10,451.45 L530.20,450.73 L530.30,451.75 L530.40,451.35 L530.50,451.72 L530.60,451.78 L530.70,450.58 L530.80,451.38 L530.90,450.76 L531.00,451.83 L531.10,451.00 L531.20,452.22 L531.30,451.39 L531.40,451.41 L531.50,450.66 L531.60,450.92 L531.70,451.12 L531.80,450.32 L531.90,450.52 L532.00,449.84 L532.10,448.95 L532.20,448.47 L532.30,447.17 L532.40,445.86 L532.50,444.99 L532.60,444.56 L532.60,444.49 L532.70,444.87 L532.80,445.93 L532.90,447.28 L533.00,448.48 L533.10,449.57 L533.20,449.47 L533.30,450.93 L533.40,451.06 L533.50,450.53 L533.60,451.40 L533.70,451.19 L533.80,449.92 L533.90,450.02 L534.00,450.48 L534.10,450.47 L534.20,450.83 L534.30,449.02 L534.40,448.24 L534.50,446.89 L534.60,445.63 L534.70,444.58 L534.80,444.22 L534.80,444.17 L534.90,444.43 L535.00,445.54 L535.10,447.08 L535.20,448.94 L535.30,450.47 L535.40,450.73 L535.50,450.30 L535.60,450.66 L535.70,451.45 L535.80,450.92 L535.90,451.63 L536.00,452.08 L536.10,452.08 L536.20,451.71 L536.30,450.18 L536.40,452.04 L536.50,450.31 L536.60,450.25 L536.70,451.26 L536.80,451.18 L536.90,451.55 L537.00,451.16 L537.10,450.71 L537.20,451.14 L537.30,450.48 L537.40,450.36 L537.50,450.92 L537.60,450.94 L537.70,451.20 L537.80,450.93 L537.90,451.90 L538.00,450.89 L538.10,451.02 L538.20,451.74 L538.30,449.73 L538.40,451.81 L538.50,451.74 L538.60,450.98 L538.70,452.46 L538.80,451.70 L538.90,452.19 L539.00,451.81 L539.10,451.26 L539.20,450.96 L539.30,450.44 L539.40,450.63 L539.50,450.35 L539.60,450.69 L539.70,451.25 L539.80,449.95 L539.90,450.60 L540.00,450.09 L540.10,448.79 L540.20,448.15 L540.30,447.68 L540.40,447.43 L540.40,447.42 L540.50,447.84 L540.60,448.25 L540.70,449.06 L540.80,449.61 L540.90,450.73 L541.00,449.81 L541.10,450.62 L541.20,451.63 L541.30,451.17 L541.40,451.99 L541.50,451.17 L541.60,450.84 L541.70,451.03 L541.80,452.48 L541.90,451.43 L542.00,450.88 L542.10,451.01 L542.20,450.45 L542.30,452.06 L542.40,450.87 L542.50,451.65 L542.60,451.09 L542.70,450.95 L542.80,450.77 L542.90,451.60 L543.00,451.10 L543.10,451.99 L543.20,452.15 L543.30,450.86 L543.40,451.27 L543.50,452.29 L543.60,451.79 L543.70,451.22 L543.80,450.22 L543.90,450.55 L544.00,450.71 L544.10,452.41 L544.20,451.30 L544.30,450.93 L544.40,450.99 L544.50,450.97 L544.60,451.40 L544.70,450.10 L544.80,450.28 L544.90,451.31 L545.00,451.89 L545.10,449.91 L545.20,451.61 L545.30,450.47 L545.40,450.01 L545.50,451.87 L545.60,451.07 L545.70,451.49 L545.80,450.93 L545.90,451.05 L546.00,450.00 L546.10,450.88 L546.20,451.27 L546.30,450.53 L546.40,451.44 L546.50,451.51 L546.60,449.82 L546.70,451.81 L546.80,451.59 L546.90,451.25 L547.00,451.96 L547.10,452.65 L547.20,450.59 L547.30,451.79 L547.40,451.63 L547.50,451.52 L547.60,451.92 L547.70,451.98 L547.80,451.18 L547.90,449.73 L548.00,450.81 L548.10,450.81 L548.20,452.26 L548.30,451.31 L548.40,452.06 L548.50,450.80 L548.60,451.44 L548.70,451.27 L548.80,451.36 L548.90,451.68 L549.00,452.28 L549.10,450.93 L549.20,452.19 L549.30,452.06 L549.40,451.50 L549.50,451.76 L549.60,451.14 L549.70,450.66 L549.80,451.15 L549.90,451.18 L550.00,451.30 L550.10,450.76 L550.20,452.50 L550.30,451.08 L550.40,451.92 L550.50,452.11 L550.60,451.32 L550.70,451.57 L550.80,450.95 L550.90,450.62 L551.00,452.82 L551.10,451.37 L551.20,450.07 L551.30,450.77 L551.40,450.40 L551.50,451.27 L551.60,452.25 L551.70,452.05 L551.80,450.88 L551.90,450.72 L552.00,451.80 L552.10,451.51 L552.20,451.17 L552.30,452.46 L552.40,451.57 L552.50,450.31 L552.60,449.95 L552.70,451.42 L552.80,450.18 L552.90,451.68 L553.00,451.87 L553.10,452.77 L553.20,450.74 L553.30,451.59 L553.40,449.87 L553.50,451.15 L553.60,451.24 L553.70,452.51 L553.80,450.41 L553.90,451.59 L554.00,451.46 L554.10,452.76 L554.20,450.78 L554.30,450.74 L554.40,451.75 L554.50,451.31 L554.60,451.12 L554.70,450.76 L554.80,451.30 L554.90,450.28 L555.00,451.53 L555.10,451.75 L555.20,451.66 L555.30,452.94 L555.40,451.79 L555.50,450.51 L555.60,450.73 L555.70,451.01 L555.80,449.70 L555.90,449.39 L556.00,448.54 L556.10,447.95 L556.20,447.74 L556.20,447.88 L556.30,447.91 L556.40,448.34 L556.50,449.25 L556.60,449.47 L556.70,451.49 L556.80,452.15 L556.90,450.78 L557.00,451.27 L557.10,451.23 L557.20,451.75 L557.30,451.58 L557.40,450.89 L557.50,450.32 L557.60,451.54 L557.70,452.44 L557.80,450.61 L557.90,451.03 L558.00,450.98 L558.10,451.29 L558.20,449.96 L558.30,451.36 L558.40,451.09 L558.50,452.57 L558.60,451.78 L558.70,451.84 L558.80,451.44 L558.90,451.20 L559.00,451.89 L559.10,450.34 L559.20,452.09 L559.30,451.70 L559.40,451.28 L559.50,452.20 L559.60,451.07 L559.70,451.03 L559.80,451.61 L559.90,450.24 L560.00,451.38 L560.10,451.26 L560.20,452.03 L560.30,452.47 L560.40,451.83 L560.50,451.63 L560.60,451.72 L560.70,450.96 L560.80,452.92 L560.90,452.14 L561.00,452.57 L561.10,450.61 L561.20,451.79 L561.30,451.76 L561.40,452.12 L561.50,450.88 L561.60,451.70 L561.70,451.30 L561.80,452.70 L561.90,450.72 L562.00,451.20 L562.10,451.10 L562.20,450.68 L562.30,451.56 L562.40,451.55 L562.50,451.00 L562.60,451.18 L562.70,451.60 L562.80,451.42 L562.90,451.76 L563.00,451.01 L563.10,450.87 L563.20,451.45 L563.30,450.29 L563.40,452.40 L563.50,451.59 L563.60,450.39 L563.70,451.71 L563.80,452.44 L563.90,450.59 L564.00,451.12 L564.10,452.19 L564.20,450.98 L564.30,452.09 L564.40,452.28 L564.50,451.55 L564.60,451.75 L564.70,452.13 L564.80,451.68 L564.90,452.08 L565.00,451.42 L565.10,451.47 L565.20,451.00 L565.30,451.74 L565.40,452.28 L565.50,452.27 L565.60,451.61 L565.70,450.52 L565.80,450.94 L565.90,451.86 L566.00,450.88 L566.10,452.18 L566.20,450.84 L566.30,451.70 L566.40,450.99 L566.50,451.08 L566.60,451.64 L566.70,451.27 L566.80,452.12 L566.90,451.51 L567.00,450.81 L567.10,448.96 L567.20,451.04 L567.30,451.42 L567.40,452.09 L567.50,450.82 L567.60,452.49 L567.70,451.97 L567.80,451.25 L567.90,452.21 L568.00,450.53 L568.10,450.81 L568.20,451.82 L568.30,451.82 L568.40,452.29 L568.50,452.34 L568.60,451.21 L568.70,451.10 L568.80,451.27 L568.90,451.32 L569.00,451.82 L569.10,451.26 L569.20,452.38 L569.30,451.48 L569.40,450.58 L569.50,450.68 L569.60,451.77 L569.70,451.69 L569.80,450.64 L569.90,450.39 L570.00,452.40 L570.10,451.75 L570.20,451.35 L570.30,450.75 L570.40,452.00 L570.50,451.10 L570.60,451.67 L570.70,450.04 L570.80,451.23 L570.90,451.57 L571.00,451.70 L571.10,450.85 L571.20,451.08 L571.30,452.15 L571.40,451.36 L571.50,452.31 L571.60,451.96 L571.70,452.28 L571.80,452.30 L571.90,451.92 L572.00,452.09 L572.10,451.18 L572.20,451.01 L572.30,451.65 L572.40,452.18 L572.50,451.01 L572.60,452.73 L572.70,452.68 L572.80,451.06 L572.90,451.10 L573.00,450.91 L573.10,451.64 L573.20,452.27 L573.30,451.81 L573.40,451.16 L573.50,451.97 L573.60,451.93 L573.70,452.35 L573.80,452.21 L573.90,451.00 L574.00,451.23 L574.10,452.21 L574.20,452.16 L574.30,451.85 L574.40,451.18 L574.50,452.22 L574.60,451.62 L574.70,452.81 L574.80,452.27 L574.90,451.26 L575.00,450.97 L575.10,452.21 L575.20,451.98 L575.30,451.04 L575.40,451.75 L575.50,451.85 L575.60,451.21 L575.70,451.40 L575.80,450.85 L575.90,451.04 L576.00,451.87 L576.10,451.59 L576.20,451.56 L576.30,452.34 L576.40,452.11 L576.50,450.94 L576.60,452.48 L576.70,450.93 L576.80,451.35 L576.90,451.61 L577.00,451.20 L577.10,451.24 L577.20,450.80 L577.30,451.77 L577.40,451.67 L577.50,451.68 L577.60,450.40 L577.70,450.96 L577.80,452.09 L577.90,451.73 L578.00,451.95 L578.10,451.52 L578.20,451.40 L578.30,450.16 L578.40,452.63 L578.50,450.92 L578.60,451.27 L578.70,451.96 L578.80,451.62 L578.90,451.83 L579.00,451.51 L579.10,450.93 L579.20,452.45 L579.30,450.75 L579.40,451.76 L579.50,450.64 L579.60,451.29 L579.70,450.80 L579.80,451.20 L579.90,450.89 L580.00,451.51 L580.10,452.04 L580.20,451.14 L580.30,451.12 L580.40,450.29 L580.50,452.74 L580.60,451.66 L580.70,450.91 L580.80,452.29 L580.90,451.68 L581.00,450.28 L581.10,450.70 L581.20,452.07 L581.30,450.70 L581.40,450.84 L581.50,451.08 L581.60,451.32 L581.70,451.41 L581.80,452.06 L581.90,451.85 L582.00,451.11 L582.10,451.47 L582.20,450.45 L582.30,451.75 L582.40,452.97 L582.50,451.75 L582.60,451.39 L582.70,451.32 L582.80,451.51 L582.90,452.04 L583.00,450.67 L583.10,451.95 L583.20,451.13 L583.30,451.72 L583.40,452.26 L583.50,450.72 L583.60,453.04 L583.70,452.06 L583.80,451.30 L583.90,451.77 L584.00,451.11 L584.10,451.62 L584.20,451.83 L584.30,450.28 L584.40,451.69 L584.50,451.65 L584.60,452.20 L584.70,452.00 L584.80,451.18 L584.90,451.23 L585.00,451.56 L585.10,451.97 L585.20,451.16 L585.30,452.57 L585.40,451.76 L585.50,451.71 L585.60,452.06 L585.70,451.47 L585.80,451.96 L585.90,452.04 L586.00,450.50 L586.10,451.13 L586.20,450.86 L586.30,451.53 L586.40,451.00 L586.50,451.11 L586.60,450.85 L586.70,450.17 L586.80,451.70 L586.90,451.41 L587.00,451.60 L587.10,453.63 L587.20,452.39 L587.30,451.56 L587.40,451.20 L587.50,451.90 L587.60,450.90 L587.70,450.82 L587.80,451.81 L587.90,450.73 L588.00,450.54 L588.10,451.30 L588.20,452.14 L588.30,450.71 L588.40,451.67 L588.50,451.79 L588.60,451.50 L588.70,451.88 L588.80,450.94 L588.90,451.12 L589.00,450.86 L589.10,451.23 L589.20,452.04 L589.30,451.67 L589.40,451.06 L589.50,451.81 L589.60,449.87 L589.70,451.72 L589.80,451.92 L589.90,450.91 L590.00,451.14 L590.10,451.59 L590.20,451.71 L590.30,451.33 L590.40,451.09 L590.50,451.14 L590.60,451.76 L590.70,451.33 L590.80,451.09 L590.90,451.14 L591.00,453.38 L591.10,452.10 L591.20,452.03 L591.30,451.72 L591.40,451.48 L591.50,451.05 L591.60,451.23 L591.70,451.66 L591.80,451.57 L591.90,450.57 L592.00,451.94 L592.10,451.41 L592.20,450.68 L592.30,451.39 L592.40,452.78 L592.50,451.37 L592.60,451.82 L592.70,451.66 L592.80,450.98 L592.90,451.32 L593.00,451.75 L593.10,451.08 L593.20,451.34 L593.30,451.52 L593.40,451.39 L593.50,451.38 L593.60,451.64 L593.70,451.57 L593.80,451.03 L593.90,451.17 L594.00,450.64 L594.10,448.07 L594.20,447.33 L594.30,444.90 L594.40,441.86 L594.50,437.80 L594.60,432.97 L594.70,427.42 L594.80,421.59 L594.90,415.50 L595.00,410.23 L595.10,405.72 L595.20,403.15 L595.30,402.09 L595.30,401.91 L595.40,403.00 L595.50,405.87 L595.60,410.14 L595.70,415.68 L595.80,421.52 L595.90,427.66 L596.00,433.25 L596.10,438.19 L596.20,441.49 L596.30,444.40 L596.40,447.69 L596.50,447.91 L596.60,450.27 L596.70,451.81 L596.80,452.43 L596.90,450.44 L597.00,451.51 L597.10,451.91 L597.20,452.00 L597.30,452.20 L597.40,450.77 L597.50,451.54 L597.60,450.34 L597.70,451.27 L597.80,452.13 L597.90,449.70 L598.00,449.46 L598.10,448.00 L598.20,445.00 L598.30,443.40 L598.40,439.19 L598.50,435.74 L598.60,431.45 L598.70,425.91 L598.80,420.94 L598.90,416.17 L599.00,412.47 L599.10,410.13 L599.20,409.25 L599.20,409.25 L599.30,410.16 L599.40,412.48 L599.50,416.29 L599.60,420.84 L599.70,426.04 L599.80,431.02 L599.90,435.51 L600.00,440.32 L600.10,443.50 L600.20,446.21 L600.30,447.46 L600.40,449.67 L600.50,449.95 L600.60,449.93 L600.70,450.96 L600.80,452.30 L600.90,451.44 L601.00,450.98 L601.10,451.77 L601.20,450.99 L601.30,451.28 L601.40,451.40 L601.50,451.79 L601.60,451.93 L601.70,451.79 L601.80,451.61 L601.90,451.35 L602.00,451.40 L602.10,451.81 L602.20,451.61 L602.30,451.42 L602.40,452.56 L602.50,452.08 L602.60,452.10 L602.70,451.76 L602.80,451.80 L602.90,451.79 L603.00,452.14 L603.10,451.27 L603.20,451.49 L603.30,452.58 L603.40,451.64 L603.50,452.29 L603.60,450.69 L603.70,451.91 L603.80,451.87 L603.90,451.60 L604.00,451.76 L604.10,451.68 L604.20,450.78 L604.30,451.52 L604.40,451.18 L604.50,451.02 L604.60,452.20 L604.70,450.70 L604.80,451.27 L604.90,451.12 L605.00,452.14 L605.10,451.20 L605.20,451.42 L605.30,451.96 L605.40,450.37 L605.50,451.34 L605.60,451.79 L605.70,451.55 L605.80,451.15 L605.90,451.02 L606.00,451.33 L606.10,450.98 L606.20,450.84 L606.30,452.36 L606.40,451.94 L606.50,452.19 L606.60,451.61 L606.70,450.85 L606.80,451.30 L606.90,452.25 L607.00,451.83 L607.10,451.09 L607.20,451.97 L607.30,451.72 L607.40,451.50 L607.50,452.69 L607.60,451.23 L607.70,451.48 L607.80,451.35 L607.90,452.22 L608.00,452.10 L608.10,452.01 L608.20,451.53 L608.30,451.63 L608.40,451.60 L608.50,450.67 L608.60,450.95 L608.70,452.08 L608.80,452.04 L608.90,450.72 L609.00,451.85 L609.10,450.91 L609.20,450.79 L609.30,451.98 L609.40,451.83 L609.50,451.63 L609.60,452.16 L609.70,452.23 L609.80,451.91 L609.90,451.21 L610.00,451.93 L610.10,451.80 L610.20,451.94 L610.30,452.45 L610.40,450.86 L610.50,452.99 L610.60,452.05 L610.70,451.38 L610.80,452.46 L610.90,451.35 L611.00,450.99 L611.10,452.17 L611.20,451.58 L611.30,452.31 L611.40,451.41 L611.50,451.64 L611.60,451.57 L611.70,450.94 L611.80,451.43 L611.90,450.95 L612.00,451.34 L612.10,452.36 L612.20,451.55 L612.30,451.43 L612.40,452.50 L612.50,450.96 L612.60,451.66 L612.70,451.50 L612.80,452.20 L612.90,451.66 L613.00,451.54 L613.10,451.88 L613.20,451.66 L613.30,452.88 L613.40,450.95 L613.50,452.32 L613.60,452.91 L613.70,452.24 L613.80,452.17 L613.90,451.41 L614.00,452.21 L614.10,451.55 L614.20,452.24 L614.30,450.49 L614.40,451.41 L614.50,450.63 L614.60,452.27 L614.70,451.35 L614.80,452.24 L614.90,451.40 L615.00,451.34 L615.10,452.59 L615.20,452.34 L615.30,452.36 L615.40,452.54 L615.50,452.12 L615.60,452.25 L615.70,452.51 L615.80,451.67 L615.90,451.42 L616.00,452.44 L616.10,452.03 L616.20,451.72 L616.30,451.85 L616.40,452.11 L616.50,451.28 L616.60,451.26 L616.70,451.35 L616.80,451.84 L616.90,450.64 L617.00,450.78 L617.10,451.95 L617.20,451.80 L617.30,451.08 L617.40,452.17 L617.50,451.51 L617.60,451.71 L617.70,452.12 L617.80,451.86 L617.90,452.60 L618.00,452.03 L618.10,452.83 L618.20,450.49 L618.30,450.92 L618.40,451.07 L618.50,451.58 L618.60,451.20 L618.70,451.05 L618.80,451.19 L618.90,451.24 L619.00,452.24 L619.10,451.51 L619.20,452.04 L619.30,452.39 L619.40,452.37 L619.50,451.51 L619.60,451.17 L619.70,452.49 L619.80,450.80 L619.90,450.95 L620.00,451.96 L620.10,452.00 L620.20,451.79 L620.30,451.22 L620.40,451.96 L620.50,452.36 L620.60,451.57 L620.70,452.88 L620.80,451.68 L620.90,451.13 L621.00,451.59 L621.10,451.34 L621.20,451.49 L621.30,451.37 L621.40,451.68 L621.50,452.21 L621.60,451.89 L621.70,451.80 L621.80,451.08 L621.90,450.88 L622.00,451.54 L622.10,452.17 L622.20,452.16 L622.30,451.87 L622.40,451.02 L622.50,451.59 L622.60,451.80 L622.70,452.18 L622.80,451.29 L622.90,451.61 L623.00,451.80 L623.10,451.72 L623.20,450.86 L623.30,451.86 L623.40,450.86 L623.50,451.10 L623.60,451.75 L623.70,451.30 L623.80,451.84 L623.90,452.22 L624.00,451.92 L624.10,452.27 L624.20,451.50 L624.30,451.77 L624.40,451.47 L624.50,451.34 L624.60,453.46 L624.70,451.61 L624.80,452.75 L624.90,451.69 L625.00,452.26 L625.10,451.73 L625.20,451.05 L625.30,452.70 L625.40,451.68 L625.50,451.83 L625.60,452.80 L625.70,451.44 L625.80,451.77 L625.90,452.06 L626.00,452.18 L626.10,450.07 L626.20,452.00 L626.30,452.76 L626.40,452.29 L626.50,451.99 L626.60,452.00 L626.70,451.84 L626.80,452.35 L626.90,451.50 L627.00,452.05 L627.10,452.52 L627.20,452.23 L627.30,452.00 L627.40,451.34 L627.50,451.54" fill="none" stroke="#000" stroke-width="0.9" stroke-linejoin="round"/>
<rect x="95.3" y="42.2" width="532.5" height="429.2" fill="none" stroke="#000" stroke-width="1.9"/>
<path d="M86.8,453.80H95.3 M90.8,424.42H95.3 M86.8,395.05H95.3 M90.8,365.67H95.3 M86.8,336.29H95.3 M90.8,306.91H95.3 M86.8,277.53H95.3 M90.8,248.16H95.3 M86.8,218.78H95.3 M90.8,189.40H95.3 M86.8,160.02H95.3 M90.8,130.65H95.3 M86.8,101.27H95.3 M90.8,71.89H95.3 M86.8,42.51H95.3 M95.30,471.4V479.7 M133.34,471.4V475.7 M171.37,471.4V479.7 M209.41,471.4V475.7 M247.44,471.4V479.7 M285.48,471.4V475.7 M323.51,471.4V479.7 M361.55,471.4V475.7 M399.58,471.4V479.7 M437.62,471.4V475.7 M475.65,471.4V479.7 M513.69,471.4V475.7 M551.72,471.4V479.7 M589.75,471.4V475.7 M627.79,471.4V479.7" stroke="#000" stroke-width="1.9" fill="none"/>
<g font-size="19"><text x="81.8" y="459.7" text-anchor="end">0</text><text x="81.8" y="400.9" text-anchor="end">500</text><text x="81.8" y="342.2" text-anchor="end">1000</text><text x="81.8" y="283.4" text-anchor="end">1500</text><text x="81.8" y="224.7" text-anchor="end">2000</text><text x="81.8" y="165.9" text-anchor="end">2500</text><text x="81.8" y="107.2" text-anchor="end">3000</text><text x="81.8" y="48.4" text-anchor="end">3500</text><text x="95.90" y="500.3" text-anchor="middle">0</text><text x="171.97" y="500.3" text-anchor="middle">100</text><text x="248.04" y="500.3" text-anchor="middle">200</text><text x="324.11" y="500.3" text-anchor="middle">300</text><text x="400.18" y="500.3" text-anchor="middle">400</text><text x="476.25" y="500.3" text-anchor="middle">500</text><text x="552.32" y="500.3" text-anchor="middle">600</text><text x="628.39" y="500.3" text-anchor="middle">700</text></g>
<text x="241.1" y="534.5" font-size="22.4">Gamma Ray Energy (keV)</text>
<text transform="translate(19.2,247.3) rotate(-90)" font-size="21.7" text-anchor="middle">Counts</text>
<g font-size="22.5"><text x="206.5" y="24.6">72 MeV</text><text x="286.6" y="15" font-size="15">16</text><text x="301" y="24.6">O on</text><text x="351.4" y="14.1" font-size="15">nat</text><text x="369.2" y="24.6">Cu - 16 hr EOB</text></g>
<g font-size="14.4"><text x="460.2" y="71.9">511 keV</text><text x="505.3" y="134.1" font-size="9.6">76</text><text x="515.4" y="140.1">Br</text><text x="505.3" y="162.6">559 keV</text><text x="505.3" y="185.3">74%</text><text x="248.8" y="261.3" font-size="9.6">77</text><text x="258.0" y="267.3">Br</text><text x="248.8" y="290.5">239 keV</text><text x="248.8" y="313.3">23%</text><text x="305.2" y="331.1" font-size="9.6">76</text><text x="314.3" y="337.1">Kr</text><text x="288.1" y="360.1">270</text><text x="319.4" y="360.1">316 <tspan letter-spacing="-0.9">keV</tspan></text><text x="288.1" y="382.7">21%</text><text x="324.9" y="382.7">39%</text><text x="432.5" y="337.3" font-size="9.6">77</text><text x="440.7" y="343.3">Br</text><text x="431.9" y="365.3">521 <tspan letter-spacing="-0.9">keV</tspan></text><text x="431.9" y="388.3">22%</text><text x="566.9" y="360.4" font-size="9.6">76</text><text x="575.5" y="366.4">Br</text><text x="566.9" y="388.9">657 <tspan letter-spacing="-0.9">keV</tspan></text><text x="566.9" y="411.8">16%</text></g>
<path d="M464.5,373.2L482.5,386.5" stroke="#000" stroke-width="1.5"/>
<path d="M490.8,392.6L479.06,388.29L483.22,382.65Z" fill="#000"/>
</svg>
</body></html>
